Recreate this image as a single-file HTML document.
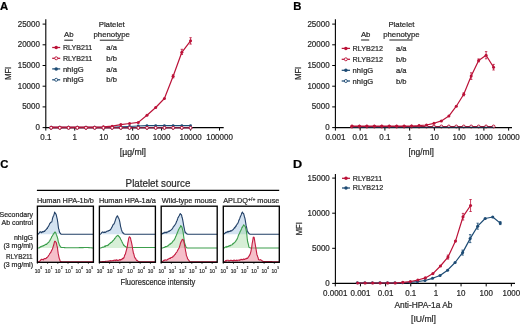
<!DOCTYPE html>
<html><head><meta charset="utf-8"><style>
html,body{margin:0;padding:0;background:#fff;overflow:hidden;}
svg{display:block;will-change:transform;font-family:"Liberation Sans",sans-serif;}
text{stroke-width:0.22px;}
</style></head><body>
<svg width="520" height="324" viewBox="0 0 520 324">
<rect width="520" height="324" fill="#fff"/>
<text x="0.00" y="9.50" font-size="11.3" text-anchor="start" font-weight="bold" fill="#000"  stroke="#000">A</text>
<text x="293.30" y="9.70" font-size="11.3" text-anchor="start" font-weight="bold" fill="#000"  stroke="#000">B</text>
<text x="0.20" y="168.40" font-size="11.3" text-anchor="start" font-weight="bold" fill="#000"  stroke="#000">C</text>
<text transform="translate(293.00 168.30) scale(1.12 1)" font-size="11.3" text-anchor="start" font-weight="bold" fill="#000"  stroke="#000">D</text>
<line x1="45.80" y1="19.30" x2="45.80" y2="128.10" stroke="#000" stroke-width="1.1" />
<line x1="42.60" y1="127.60" x2="45.80" y2="127.60" stroke="#000" stroke-width="1.0" />
<text transform="translate(39.90 130.06) scale(0.94 1)" font-size="8.5" text-anchor="end" font-weight="normal" fill="#2a2a2a"  stroke="#2a2a2a">0</text>
<line x1="42.60" y1="106.90" x2="45.80" y2="106.90" stroke="#000" stroke-width="1.0" />
<text transform="translate(39.90 109.36) scale(0.94 1)" font-size="8.5" text-anchor="end" font-weight="normal" fill="#2a2a2a"  stroke="#2a2a2a">5000</text>
<line x1="42.60" y1="86.20" x2="45.80" y2="86.20" stroke="#000" stroke-width="1.0" />
<text transform="translate(39.90 88.66) scale(0.94 1)" font-size="8.5" text-anchor="end" font-weight="normal" fill="#2a2a2a"  stroke="#2a2a2a">10000</text>
<line x1="42.60" y1="65.50" x2="45.80" y2="65.50" stroke="#000" stroke-width="1.0" />
<text transform="translate(39.90 67.97) scale(0.94 1)" font-size="8.5" text-anchor="end" font-weight="normal" fill="#2a2a2a"  stroke="#2a2a2a">15000</text>
<line x1="42.60" y1="44.80" x2="45.80" y2="44.80" stroke="#000" stroke-width="1.0" />
<text transform="translate(39.90 47.27) scale(0.94 1)" font-size="8.5" text-anchor="end" font-weight="normal" fill="#2a2a2a"  stroke="#2a2a2a">20000</text>
<line x1="42.60" y1="24.10" x2="45.80" y2="24.10" stroke="#000" stroke-width="1.0" />
<text transform="translate(39.90 26.56) scale(0.94 1)" font-size="8.5" text-anchor="end" font-weight="normal" fill="#2a2a2a"  stroke="#2a2a2a">25000</text>
<line x1="45.30" y1="127.60" x2="223.70" y2="127.60" stroke="#000" stroke-width="1.1" />
<line x1="45.80" y1="127.60" x2="45.80" y2="130.60" stroke="#000" stroke-width="1.0" />
<text transform="translate(45.80 139.80) scale(0.94 1)" font-size="8.5" text-anchor="middle" font-weight="normal" fill="#2a2a2a"  stroke="#2a2a2a">0.1</text>
<line x1="74.75" y1="127.60" x2="74.75" y2="130.60" stroke="#000" stroke-width="1.0" />
<text transform="translate(74.75 139.80) scale(0.94 1)" font-size="8.5" text-anchor="middle" font-weight="normal" fill="#2a2a2a"  stroke="#2a2a2a">1</text>
<line x1="103.70" y1="127.60" x2="103.70" y2="130.60" stroke="#000" stroke-width="1.0" />
<text transform="translate(103.70 139.80) scale(0.94 1)" font-size="8.5" text-anchor="middle" font-weight="normal" fill="#2a2a2a"  stroke="#2a2a2a">10</text>
<line x1="132.65" y1="127.60" x2="132.65" y2="130.60" stroke="#000" stroke-width="1.0" />
<text transform="translate(132.65 139.80) scale(0.94 1)" font-size="8.5" text-anchor="middle" font-weight="normal" fill="#2a2a2a"  stroke="#2a2a2a">100</text>
<line x1="161.60" y1="127.60" x2="161.60" y2="130.60" stroke="#000" stroke-width="1.0" />
<text transform="translate(161.60 139.80) scale(0.94 1)" font-size="8.5" text-anchor="middle" font-weight="normal" fill="#2a2a2a"  stroke="#2a2a2a">1000</text>
<line x1="190.55" y1="127.60" x2="190.55" y2="130.60" stroke="#000" stroke-width="1.0" />
<text transform="translate(190.55 139.80) scale(0.94 1)" font-size="8.5" text-anchor="middle" font-weight="normal" fill="#2a2a2a"  stroke="#2a2a2a">10000</text>
<line x1="219.50" y1="127.60" x2="219.50" y2="130.60" stroke="#000" stroke-width="1.0" />
<text transform="translate(219.50 139.80) scale(0.94 1)" font-size="8.5" text-anchor="middle" font-weight="normal" fill="#2a2a2a"  stroke="#2a2a2a">100000</text>
<text transform="translate(10.8 73.4) rotate(-90)" x="-6.45" y="0" font-size="9.2" fill="#2a2a2a" textLength="13.0" lengthAdjust="spacingAndGlyphs" stroke="#2a2a2a">MFI</text>
<text x="132.90" y="155.10" font-size="8.7" text-anchor="middle" font-weight="normal" fill="#2a2a2a"  stroke="#2a2a2a">[µg/ml]</text>
<polyline points="190.55,127.85 181.84,127.85 173.12,127.85 164.41,127.85 155.69,127.85 146.98,127.85 138.26,127.85 129.55,127.85 120.83,127.85 112.12,127.85 103.40,127.85 94.69,127.85 85.97,127.85 77.26,127.85 68.54,127.85 59.83,127.85 51.11,127.85" fill="none" stroke="#1d4b74" stroke-width="0.9" stroke-linejoin="round"/>
<circle cx="190.55" cy="127.85" r="1.4" fill="#fff" stroke="#1d4b74" stroke-width="0.9"/>
<circle cx="181.84" cy="127.85" r="1.4" fill="#fff" stroke="#1d4b74" stroke-width="0.9"/>
<circle cx="173.12" cy="127.85" r="1.4" fill="#fff" stroke="#1d4b74" stroke-width="0.9"/>
<circle cx="164.41" cy="127.85" r="1.4" fill="#fff" stroke="#1d4b74" stroke-width="0.9"/>
<circle cx="155.69" cy="127.85" r="1.4" fill="#fff" stroke="#1d4b74" stroke-width="0.9"/>
<circle cx="146.98" cy="127.85" r="1.4" fill="#fff" stroke="#1d4b74" stroke-width="0.9"/>
<circle cx="138.26" cy="127.85" r="1.4" fill="#fff" stroke="#1d4b74" stroke-width="0.9"/>
<circle cx="129.55" cy="127.85" r="1.4" fill="#fff" stroke="#1d4b74" stroke-width="0.9"/>
<circle cx="120.83" cy="127.85" r="1.4" fill="#fff" stroke="#1d4b74" stroke-width="0.9"/>
<circle cx="112.12" cy="127.85" r="1.4" fill="#fff" stroke="#1d4b74" stroke-width="0.9"/>
<circle cx="103.40" cy="127.85" r="1.4" fill="#fff" stroke="#1d4b74" stroke-width="0.9"/>
<circle cx="94.69" cy="127.85" r="1.4" fill="#fff" stroke="#1d4b74" stroke-width="0.9"/>
<circle cx="85.97" cy="127.85" r="1.4" fill="#fff" stroke="#1d4b74" stroke-width="0.9"/>
<circle cx="77.26" cy="127.85" r="1.4" fill="#fff" stroke="#1d4b74" stroke-width="0.9"/>
<circle cx="68.54" cy="127.85" r="1.4" fill="#fff" stroke="#1d4b74" stroke-width="0.9"/>
<circle cx="59.83" cy="127.85" r="1.4" fill="#fff" stroke="#1d4b74" stroke-width="0.9"/>
<circle cx="51.11" cy="127.85" r="1.4" fill="#fff" stroke="#1d4b74" stroke-width="0.9"/>
<polyline points="190.55,125.60 181.84,125.60 173.12,125.60 164.41,125.60 155.69,125.60 146.98,125.60 138.26,126.00 129.55,126.50 120.83,126.90 112.12,127.20 103.40,127.20 94.69,127.20 85.97,127.20 77.26,127.20 68.54,127.20 59.83,127.20 51.11,127.20" fill="none" stroke="#1d4b74" stroke-width="1.1" stroke-linejoin="round"/>
<circle cx="190.55" cy="125.60" r="1.4" fill="#1d4b74"/>
<circle cx="181.84" cy="125.60" r="1.4" fill="#1d4b74"/>
<circle cx="173.12" cy="125.60" r="1.4" fill="#1d4b74"/>
<circle cx="164.41" cy="125.60" r="1.4" fill="#1d4b74"/>
<circle cx="155.69" cy="125.60" r="1.4" fill="#1d4b74"/>
<circle cx="146.98" cy="125.60" r="1.4" fill="#1d4b74"/>
<circle cx="138.26" cy="126.00" r="1.4" fill="#1d4b74"/>
<circle cx="129.55" cy="126.50" r="1.4" fill="#1d4b74"/>
<circle cx="120.83" cy="126.90" r="1.4" fill="#1d4b74"/>
<circle cx="112.12" cy="127.20" r="1.4" fill="#1d4b74"/>
<circle cx="103.40" cy="127.20" r="1.4" fill="#1d4b74"/>
<circle cx="94.69" cy="127.20" r="1.4" fill="#1d4b74"/>
<circle cx="85.97" cy="127.20" r="1.4" fill="#1d4b74"/>
<circle cx="77.26" cy="127.20" r="1.4" fill="#1d4b74"/>
<circle cx="68.54" cy="127.20" r="1.4" fill="#1d4b74"/>
<circle cx="59.83" cy="127.20" r="1.4" fill="#1d4b74"/>
<circle cx="51.11" cy="127.20" r="1.4" fill="#1d4b74"/>
<polyline points="190.55,40.80 181.84,52.30 173.12,76.30 164.41,98.50 155.69,107.50 146.98,115.20 138.26,122.40 129.55,123.50 120.83,124.60 112.12,126.20 103.40,126.80 94.69,127.20 85.97,127.20 77.26,127.20 68.54,127.20 59.83,127.20 51.11,127.20" fill="none" stroke="#bb1238" stroke-width="1.2" stroke-linejoin="round"/>
<circle cx="190.55" cy="40.80" r="1.5" fill="#bb1238"/>
<circle cx="181.84" cy="52.30" r="1.5" fill="#bb1238"/>
<circle cx="173.12" cy="76.30" r="1.5" fill="#bb1238"/>
<circle cx="164.41" cy="98.50" r="1.5" fill="#bb1238"/>
<circle cx="155.69" cy="107.50" r="1.5" fill="#bb1238"/>
<circle cx="146.98" cy="115.20" r="1.5" fill="#bb1238"/>
<circle cx="138.26" cy="122.40" r="1.5" fill="#bb1238"/>
<circle cx="129.55" cy="123.50" r="1.5" fill="#bb1238"/>
<circle cx="120.83" cy="124.60" r="1.5" fill="#bb1238"/>
<circle cx="112.12" cy="126.20" r="1.5" fill="#bb1238"/>
<circle cx="103.40" cy="126.80" r="1.5" fill="#bb1238"/>
<circle cx="94.69" cy="127.20" r="1.5" fill="#bb1238"/>
<circle cx="85.97" cy="127.20" r="1.5" fill="#bb1238"/>
<circle cx="77.26" cy="127.20" r="1.5" fill="#bb1238"/>
<circle cx="68.54" cy="127.20" r="1.5" fill="#bb1238"/>
<circle cx="59.83" cy="127.20" r="1.5" fill="#bb1238"/>
<circle cx="51.11" cy="127.20" r="1.5" fill="#bb1238"/>
<polyline points="190.55,127.85 181.84,127.85 173.12,127.85 164.41,127.85 155.69,127.85 146.98,127.85 138.26,127.85 129.55,127.85 120.83,127.85 112.12,127.85 103.40,127.85 94.69,127.85 85.97,127.85 77.26,127.85 68.54,127.85 59.83,127.85 51.11,127.85" fill="none" stroke="#bb1238" stroke-width="1.0" stroke-linejoin="round"/>
<circle cx="190.55" cy="127.85" r="1.45" fill="#fff" stroke="#bb1238" stroke-width="1.0"/>
<circle cx="181.84" cy="127.85" r="1.45" fill="#fff" stroke="#bb1238" stroke-width="1.0"/>
<circle cx="173.12" cy="127.85" r="1.45" fill="#fff" stroke="#bb1238" stroke-width="1.0"/>
<circle cx="164.41" cy="127.85" r="1.45" fill="#fff" stroke="#bb1238" stroke-width="1.0"/>
<circle cx="155.69" cy="127.85" r="1.45" fill="#fff" stroke="#bb1238" stroke-width="1.0"/>
<circle cx="146.98" cy="127.85" r="1.45" fill="#fff" stroke="#bb1238" stroke-width="1.0"/>
<circle cx="138.26" cy="127.85" r="1.45" fill="#fff" stroke="#bb1238" stroke-width="1.0"/>
<circle cx="129.55" cy="127.85" r="1.45" fill="#fff" stroke="#bb1238" stroke-width="1.0"/>
<circle cx="120.83" cy="127.85" r="1.45" fill="#fff" stroke="#bb1238" stroke-width="1.0"/>
<circle cx="112.12" cy="127.85" r="1.45" fill="#fff" stroke="#bb1238" stroke-width="1.0"/>
<circle cx="103.40" cy="127.85" r="1.45" fill="#fff" stroke="#bb1238" stroke-width="1.0"/>
<circle cx="94.69" cy="127.85" r="1.45" fill="#fff" stroke="#bb1238" stroke-width="1.0"/>
<circle cx="85.97" cy="127.85" r="1.45" fill="#fff" stroke="#bb1238" stroke-width="1.0"/>
<circle cx="77.26" cy="127.85" r="1.45" fill="#fff" stroke="#bb1238" stroke-width="1.0"/>
<circle cx="68.54" cy="127.85" r="1.45" fill="#fff" stroke="#bb1238" stroke-width="1.0"/>
<circle cx="59.83" cy="127.85" r="1.45" fill="#fff" stroke="#bb1238" stroke-width="1.0"/>
<circle cx="51.11" cy="127.85" r="1.45" fill="#fff" stroke="#bb1238" stroke-width="1.0"/>
<line x1="190.55" y1="37.70" x2="190.55" y2="44.10" stroke="#bb1238" stroke-width="0.8" />
<line x1="189.35" y1="37.70" x2="191.75" y2="37.70" stroke="#bb1238" stroke-width="0.8" />
<line x1="189.35" y1="44.10" x2="191.75" y2="44.10" stroke="#bb1238" stroke-width="0.8" />
<line x1="181.84" y1="49.30" x2="181.84" y2="54.50" stroke="#bb1238" stroke-width="0.8" />
<line x1="180.64" y1="49.30" x2="183.04" y2="49.30" stroke="#bb1238" stroke-width="0.8" />
<line x1="180.64" y1="54.50" x2="183.04" y2="54.50" stroke="#bb1238" stroke-width="0.8" />
<line x1="173.12" y1="74.70" x2="173.12" y2="77.90" stroke="#bb1238" stroke-width="0.8" />
<line x1="171.92" y1="74.70" x2="174.32" y2="74.70" stroke="#bb1238" stroke-width="0.8" />
<line x1="171.92" y1="77.90" x2="174.32" y2="77.90" stroke="#bb1238" stroke-width="0.8" />
<text x="68.80" y="36.70" font-size="7.8" text-anchor="middle" font-weight="normal" fill="#2a2a2a"  stroke="#2a2a2a">Ab</text>
<line x1="64.30" y1="40.20" x2="72.90" y2="40.20" stroke="#111" stroke-width="0.95" />
<text x="111.70" y="27.00" font-size="7.8" text-anchor="middle" font-weight="normal" fill="#2a2a2a"  stroke="#2a2a2a">Platelet</text>
<text x="111.70" y="36.50" font-size="7.8" text-anchor="middle" font-weight="normal" fill="#2a2a2a"  stroke="#2a2a2a">phenotype</text>
<line x1="99.80" y1="40.20" x2="123.50" y2="40.20" stroke="#111" stroke-width="0.95" />
<line x1="52.20" y1="47.50" x2="60.20" y2="47.50" stroke="#bb1238" stroke-width="1.25" />
<circle cx="56.20" cy="47.50" r="1.75" fill="#bb1238"/>
<text x="62.90" y="50.15" font-size="7.6" fill="#2a2a2a" textLength="29.4" lengthAdjust="spacingAndGlyphs" stroke="#2a2a2a">RLYB211</text>
<text x="111.60" y="50.15" font-size="7.6" text-anchor="middle" font-weight="normal" fill="#2a2a2a"  stroke="#2a2a2a">a/a</text>
<line x1="52.20" y1="58.30" x2="60.20" y2="58.30" stroke="#bb1238" stroke-width="1.25" />
<circle cx="56.20" cy="58.30" r="1.5" fill="#fff" stroke="#bb1238" stroke-width="0.9"/>
<text x="62.90" y="60.95" font-size="7.6" fill="#2a2a2a" textLength="29.4" lengthAdjust="spacingAndGlyphs" stroke="#2a2a2a">RLYB211</text>
<text x="111.60" y="60.95" font-size="7.6" text-anchor="middle" font-weight="normal" fill="#2a2a2a"  stroke="#2a2a2a">b/b</text>
<line x1="52.20" y1="68.90" x2="60.20" y2="68.90" stroke="#1d4b74" stroke-width="1.25" />
<circle cx="56.20" cy="68.90" r="1.75" fill="#1d4b74"/>
<text x="62.90" y="71.55" font-size="7.6" fill="#2a2a2a" stroke="#2a2a2a">nhIgG</text>
<text x="111.60" y="71.55" font-size="7.6" text-anchor="middle" font-weight="normal" fill="#2a2a2a"  stroke="#2a2a2a">a/a</text>
<line x1="52.20" y1="79.80" x2="60.20" y2="79.80" stroke="#1d4b74" stroke-width="1.25" />
<circle cx="56.20" cy="79.80" r="1.5" fill="#fff" stroke="#1d4b74" stroke-width="0.9"/>
<text x="62.90" y="82.45" font-size="7.6" fill="#2a2a2a" stroke="#2a2a2a">nhIgG</text>
<text x="111.60" y="82.45" font-size="7.6" text-anchor="middle" font-weight="normal" fill="#2a2a2a"  stroke="#2a2a2a">b/b</text>
<line x1="335.40" y1="19.30" x2="335.40" y2="128.10" stroke="#000" stroke-width="1.1" />
<line x1="332.20" y1="127.60" x2="335.40" y2="127.60" stroke="#000" stroke-width="1.0" />
<text transform="translate(329.60 130.06) scale(0.94 1)" font-size="8.5" text-anchor="end" font-weight="normal" fill="#2a2a2a"  stroke="#2a2a2a">0</text>
<line x1="332.20" y1="106.90" x2="335.40" y2="106.90" stroke="#000" stroke-width="1.0" />
<text transform="translate(329.60 109.36) scale(0.94 1)" font-size="8.5" text-anchor="end" font-weight="normal" fill="#2a2a2a"  stroke="#2a2a2a">5000</text>
<line x1="332.20" y1="86.20" x2="335.40" y2="86.20" stroke="#000" stroke-width="1.0" />
<text transform="translate(329.60 88.66) scale(0.94 1)" font-size="8.5" text-anchor="end" font-weight="normal" fill="#2a2a2a"  stroke="#2a2a2a">10000</text>
<line x1="332.20" y1="65.50" x2="335.40" y2="65.50" stroke="#000" stroke-width="1.0" />
<text transform="translate(329.60 67.97) scale(0.94 1)" font-size="8.5" text-anchor="end" font-weight="normal" fill="#2a2a2a"  stroke="#2a2a2a">15000</text>
<line x1="332.20" y1="44.80" x2="335.40" y2="44.80" stroke="#000" stroke-width="1.0" />
<text transform="translate(329.60 47.27) scale(0.94 1)" font-size="8.5" text-anchor="end" font-weight="normal" fill="#2a2a2a"  stroke="#2a2a2a">20000</text>
<line x1="332.20" y1="24.10" x2="335.40" y2="24.10" stroke="#000" stroke-width="1.0" />
<text transform="translate(329.60 26.56) scale(0.94 1)" font-size="8.5" text-anchor="end" font-weight="normal" fill="#2a2a2a"  stroke="#2a2a2a">25000</text>
<line x1="334.90" y1="127.60" x2="512.00" y2="127.60" stroke="#000" stroke-width="1.1" />
<line x1="335.40" y1="127.60" x2="335.40" y2="130.60" stroke="#000" stroke-width="1.0" />
<text transform="translate(335.40 139.80) scale(0.94 1)" font-size="8.5" text-anchor="middle" font-weight="normal" fill="#2a2a2a"  stroke="#2a2a2a">0.001</text>
<line x1="360.15" y1="127.60" x2="360.15" y2="130.60" stroke="#000" stroke-width="1.0" />
<text transform="translate(360.15 139.80) scale(0.94 1)" font-size="8.5" text-anchor="middle" font-weight="normal" fill="#2a2a2a"  stroke="#2a2a2a">0.01</text>
<line x1="384.90" y1="127.60" x2="384.90" y2="130.60" stroke="#000" stroke-width="1.0" />
<text transform="translate(384.90 139.80) scale(0.94 1)" font-size="8.5" text-anchor="middle" font-weight="normal" fill="#2a2a2a"  stroke="#2a2a2a">0.1</text>
<line x1="409.65" y1="127.60" x2="409.65" y2="130.60" stroke="#000" stroke-width="1.0" />
<text transform="translate(409.65 139.80) scale(0.94 1)" font-size="8.5" text-anchor="middle" font-weight="normal" fill="#2a2a2a"  stroke="#2a2a2a">1</text>
<line x1="434.40" y1="127.60" x2="434.40" y2="130.60" stroke="#000" stroke-width="1.0" />
<text transform="translate(434.40 139.80) scale(0.94 1)" font-size="8.5" text-anchor="middle" font-weight="normal" fill="#2a2a2a"  stroke="#2a2a2a">10</text>
<line x1="459.15" y1="127.60" x2="459.15" y2="130.60" stroke="#000" stroke-width="1.0" />
<text transform="translate(459.15 139.80) scale(0.94 1)" font-size="8.5" text-anchor="middle" font-weight="normal" fill="#2a2a2a"  stroke="#2a2a2a">100</text>
<line x1="483.90" y1="127.60" x2="483.90" y2="130.60" stroke="#000" stroke-width="1.0" />
<text transform="translate(483.90 139.80) scale(0.94 1)" font-size="8.5" text-anchor="middle" font-weight="normal" fill="#2a2a2a"  stroke="#2a2a2a">1000</text>
<line x1="508.65" y1="127.60" x2="508.65" y2="130.60" stroke="#000" stroke-width="1.0" />
<text transform="translate(508.65 139.80) scale(0.94 1)" font-size="8.5" text-anchor="middle" font-weight="normal" fill="#2a2a2a"  stroke="#2a2a2a">10000</text>
<text transform="translate(300.9 73.4) rotate(-90)" x="-6.45" y="0" font-size="9.2" fill="#2a2a2a" textLength="13.0" lengthAdjust="spacingAndGlyphs" stroke="#2a2a2a">MFI</text>
<text x="421.20" y="155.00" font-size="8.5" text-anchor="middle" font-weight="normal" fill="#2a2a2a"  stroke="#2a2a2a">[ng/ml]</text>
<polyline points="493.55,126.50 486.10,126.50 478.65,126.50 471.20,126.50 463.75,126.50 456.30,126.50 448.85,126.50 441.40,126.50 433.95,126.50 426.49,126.50 419.04,126.50 411.59,126.50 404.14,126.50 396.69,126.50 389.24,126.50 381.79,126.50 374.34,126.50 366.89,126.50 359.44,126.50 351.99,126.50" fill="none" stroke="#bb1238" stroke-width="1.0" stroke-linejoin="round"/>
<circle cx="493.55" cy="126.50" r="1.45" fill="#fff" stroke="#bb1238" stroke-width="1.0"/>
<circle cx="486.10" cy="126.50" r="1.45" fill="#fff" stroke="#bb1238" stroke-width="1.0"/>
<circle cx="478.65" cy="126.50" r="1.45" fill="#fff" stroke="#bb1238" stroke-width="1.0"/>
<circle cx="471.20" cy="126.50" r="1.45" fill="#fff" stroke="#bb1238" stroke-width="1.0"/>
<circle cx="463.75" cy="126.50" r="1.45" fill="#fff" stroke="#bb1238" stroke-width="1.0"/>
<circle cx="456.30" cy="126.50" r="1.45" fill="#fff" stroke="#bb1238" stroke-width="1.0"/>
<circle cx="448.85" cy="126.50" r="1.45" fill="#fff" stroke="#bb1238" stroke-width="1.0"/>
<circle cx="441.40" cy="126.50" r="1.45" fill="#fff" stroke="#bb1238" stroke-width="1.0"/>
<circle cx="433.95" cy="126.50" r="1.45" fill="#fff" stroke="#bb1238" stroke-width="1.0"/>
<circle cx="426.49" cy="126.50" r="1.45" fill="#fff" stroke="#bb1238" stroke-width="1.0"/>
<circle cx="419.04" cy="126.50" r="1.45" fill="#fff" stroke="#bb1238" stroke-width="1.0"/>
<circle cx="411.59" cy="126.50" r="1.45" fill="#fff" stroke="#bb1238" stroke-width="1.0"/>
<circle cx="404.14" cy="126.50" r="1.45" fill="#fff" stroke="#bb1238" stroke-width="1.0"/>
<circle cx="396.69" cy="126.50" r="1.45" fill="#fff" stroke="#bb1238" stroke-width="1.0"/>
<circle cx="389.24" cy="126.50" r="1.45" fill="#fff" stroke="#bb1238" stroke-width="1.0"/>
<circle cx="381.79" cy="126.50" r="1.45" fill="#fff" stroke="#bb1238" stroke-width="1.0"/>
<circle cx="374.34" cy="126.50" r="1.45" fill="#fff" stroke="#bb1238" stroke-width="1.0"/>
<circle cx="366.89" cy="126.50" r="1.45" fill="#fff" stroke="#bb1238" stroke-width="1.0"/>
<circle cx="359.44" cy="126.50" r="1.45" fill="#fff" stroke="#bb1238" stroke-width="1.0"/>
<circle cx="351.99" cy="126.50" r="1.45" fill="#fff" stroke="#bb1238" stroke-width="1.0"/>
<polyline points="493.55,127.40 486.10,127.40 478.65,127.40 471.20,127.40 463.75,127.40 456.30,127.40 448.85,127.40 441.40,127.40 433.95,127.40 426.49,127.40 419.04,127.40 411.59,127.40 404.14,127.40 396.69,127.40 389.24,127.40 381.79,127.40 374.34,127.40 366.89,127.40 359.44,127.40 351.99,127.40" fill="none" stroke="#1a2a40" stroke-width="1.1" stroke-linejoin="round"/>
<polyline points="493.55,67.20 486.10,55.20 478.65,60.40 471.20,76.10 463.75,94.30 456.30,106.20 448.85,116.10 441.40,120.90 433.95,123.30 426.49,125.00 419.04,125.60 411.59,126.00 404.14,126.20 396.69,126.20 389.24,126.20 381.79,126.20 374.34,126.20 366.89,126.20 359.44,126.20 351.99,126.20" fill="none" stroke="#bb1238" stroke-width="1.2" stroke-linejoin="round"/>
<circle cx="493.55" cy="67.20" r="1.5" fill="#bb1238"/>
<circle cx="486.10" cy="55.20" r="1.5" fill="#bb1238"/>
<circle cx="478.65" cy="60.40" r="1.5" fill="#bb1238"/>
<circle cx="471.20" cy="76.10" r="1.5" fill="#bb1238"/>
<circle cx="463.75" cy="94.30" r="1.5" fill="#bb1238"/>
<circle cx="456.30" cy="106.20" r="1.5" fill="#bb1238"/>
<circle cx="448.85" cy="116.10" r="1.5" fill="#bb1238"/>
<circle cx="441.40" cy="120.90" r="1.5" fill="#bb1238"/>
<circle cx="433.95" cy="123.30" r="1.5" fill="#bb1238"/>
<circle cx="426.49" cy="125.00" r="1.5" fill="#bb1238"/>
<circle cx="419.04" cy="125.60" r="1.5" fill="#bb1238"/>
<circle cx="411.59" cy="126.00" r="1.5" fill="#bb1238"/>
<circle cx="404.14" cy="126.20" r="1.5" fill="#bb1238"/>
<circle cx="396.69" cy="126.20" r="1.5" fill="#bb1238"/>
<circle cx="389.24" cy="126.20" r="1.5" fill="#bb1238"/>
<circle cx="381.79" cy="126.20" r="1.5" fill="#bb1238"/>
<circle cx="374.34" cy="126.20" r="1.5" fill="#bb1238"/>
<circle cx="366.89" cy="126.20" r="1.5" fill="#bb1238"/>
<circle cx="359.44" cy="126.20" r="1.5" fill="#bb1238"/>
<circle cx="351.99" cy="126.20" r="1.5" fill="#bb1238"/>
<line x1="493.55" y1="64.40" x2="493.55" y2="70.00" stroke="#bb1238" stroke-width="0.8" />
<line x1="492.35" y1="64.40" x2="494.75" y2="64.40" stroke="#bb1238" stroke-width="0.8" />
<line x1="492.35" y1="70.00" x2="494.75" y2="70.00" stroke="#bb1238" stroke-width="0.8" />
<line x1="486.10" y1="51.60" x2="486.10" y2="58.80" stroke="#bb1238" stroke-width="0.8" />
<line x1="484.90" y1="51.60" x2="487.30" y2="51.60" stroke="#bb1238" stroke-width="0.8" />
<line x1="484.90" y1="58.80" x2="487.30" y2="58.80" stroke="#bb1238" stroke-width="0.8" />
<line x1="478.65" y1="58.90" x2="478.65" y2="61.90" stroke="#bb1238" stroke-width="0.8" />
<line x1="477.45" y1="58.90" x2="479.85" y2="58.90" stroke="#bb1238" stroke-width="0.8" />
<line x1="477.45" y1="61.90" x2="479.85" y2="61.90" stroke="#bb1238" stroke-width="0.8" />
<line x1="471.20" y1="72.80" x2="471.20" y2="79.40" stroke="#bb1238" stroke-width="0.8" />
<line x1="470.00" y1="72.80" x2="472.40" y2="72.80" stroke="#bb1238" stroke-width="0.8" />
<line x1="470.00" y1="79.40" x2="472.40" y2="79.40" stroke="#bb1238" stroke-width="0.8" />
<line x1="463.75" y1="92.80" x2="463.75" y2="95.80" stroke="#bb1238" stroke-width="0.8" />
<line x1="462.55" y1="92.80" x2="464.95" y2="92.80" stroke="#bb1238" stroke-width="0.8" />
<line x1="462.55" y1="95.80" x2="464.95" y2="95.80" stroke="#bb1238" stroke-width="0.8" />
<text x="365.70" y="36.70" font-size="7.8" text-anchor="middle" font-weight="normal" fill="#2a2a2a"  stroke="#2a2a2a">Ab</text>
<line x1="361.10" y1="40.00" x2="369.20" y2="40.00" stroke="#111" stroke-width="0.95" />
<text x="401.40" y="27.00" font-size="7.8" text-anchor="middle" font-weight="normal" fill="#2a2a2a"  stroke="#2a2a2a">Platelet</text>
<text x="401.40" y="36.50" font-size="7.8" text-anchor="middle" font-weight="normal" fill="#2a2a2a"  stroke="#2a2a2a">phenotype</text>
<line x1="389.40" y1="40.00" x2="412.50" y2="40.00" stroke="#111" stroke-width="0.95" />
<line x1="341.70" y1="48.40" x2="350.00" y2="48.40" stroke="#bb1238" stroke-width="1.25" />
<circle cx="345.85" cy="48.40" r="1.75" fill="#bb1238"/>
<text x="352.60" y="51.05" font-size="7.6" fill="#2a2a2a" textLength="30.4" lengthAdjust="spacingAndGlyphs" stroke="#2a2a2a">RLYB212</text>
<text x="401.20" y="51.05" font-size="7.6" text-anchor="middle" font-weight="normal" fill="#2a2a2a"  stroke="#2a2a2a">a/a</text>
<line x1="341.70" y1="59.30" x2="350.00" y2="59.30" stroke="#bb1238" stroke-width="1.25" />
<circle cx="345.85" cy="59.30" r="1.5" fill="#fff" stroke="#bb1238" stroke-width="0.9"/>
<text x="352.60" y="61.95" font-size="7.6" fill="#2a2a2a" textLength="30.4" lengthAdjust="spacingAndGlyphs" stroke="#2a2a2a">RLYB212</text>
<text x="401.20" y="61.95" font-size="7.6" text-anchor="middle" font-weight="normal" fill="#2a2a2a"  stroke="#2a2a2a">b/b</text>
<line x1="341.70" y1="70.30" x2="350.00" y2="70.30" stroke="#1d4b74" stroke-width="1.25" />
<circle cx="345.85" cy="70.30" r="1.75" fill="#1d4b74"/>
<text x="352.60" y="72.95" font-size="7.6" fill="#2a2a2a" stroke="#2a2a2a">nhIgG</text>
<text x="401.20" y="72.95" font-size="7.6" text-anchor="middle" font-weight="normal" fill="#2a2a2a"  stroke="#2a2a2a">a/a</text>
<line x1="341.70" y1="81.00" x2="350.00" y2="81.00" stroke="#1d4b74" stroke-width="1.25" />
<circle cx="345.85" cy="81.00" r="1.5" fill="#fff" stroke="#1d4b74" stroke-width="0.9"/>
<text x="352.60" y="83.65" font-size="7.6" fill="#2a2a2a" stroke="#2a2a2a">nhIgG</text>
<text x="401.20" y="83.65" font-size="7.6" text-anchor="middle" font-weight="normal" fill="#2a2a2a"  stroke="#2a2a2a">b/b</text>
<line x1="335.40" y1="174.10" x2="335.40" y2="283.90" stroke="#000" stroke-width="1.1" />
<line x1="332.20" y1="283.40" x2="335.40" y2="283.40" stroke="#000" stroke-width="1.0" />
<text transform="translate(329.80 285.86) scale(0.94 1)" font-size="8.5" text-anchor="end" font-weight="normal" fill="#2a2a2a"  stroke="#2a2a2a">0</text>
<line x1="332.20" y1="248.30" x2="335.40" y2="248.30" stroke="#000" stroke-width="1.0" />
<text transform="translate(329.80 250.76) scale(0.94 1)" font-size="8.5" text-anchor="end" font-weight="normal" fill="#2a2a2a"  stroke="#2a2a2a">5000</text>
<line x1="332.20" y1="213.20" x2="335.40" y2="213.20" stroke="#000" stroke-width="1.0" />
<text transform="translate(329.80 215.66) scale(0.94 1)" font-size="8.5" text-anchor="end" font-weight="normal" fill="#2a2a2a"  stroke="#2a2a2a">10000</text>
<line x1="332.20" y1="178.10" x2="335.40" y2="178.10" stroke="#000" stroke-width="1.0" />
<text transform="translate(329.80 180.56) scale(0.94 1)" font-size="8.5" text-anchor="end" font-weight="normal" fill="#2a2a2a"  stroke="#2a2a2a">15000</text>
<line x1="334.80" y1="283.40" x2="515.00" y2="283.40" stroke="#000" stroke-width="1.1" />
<line x1="335.30" y1="283.40" x2="335.30" y2="286.40" stroke="#000" stroke-width="1.0" />
<text transform="translate(335.30 295.90) scale(0.94 1)" font-size="8.5" text-anchor="middle" font-weight="normal" fill="#2a2a2a"  stroke="#2a2a2a">0.0001</text>
<line x1="360.45" y1="283.40" x2="360.45" y2="286.40" stroke="#000" stroke-width="1.0" />
<text transform="translate(360.45 295.90) scale(0.94 1)" font-size="8.5" text-anchor="middle" font-weight="normal" fill="#2a2a2a"  stroke="#2a2a2a">0.001</text>
<line x1="385.60" y1="283.40" x2="385.60" y2="286.40" stroke="#000" stroke-width="1.0" />
<text transform="translate(385.60 295.90) scale(0.94 1)" font-size="8.5" text-anchor="middle" font-weight="normal" fill="#2a2a2a"  stroke="#2a2a2a">0.01</text>
<line x1="410.75" y1="283.40" x2="410.75" y2="286.40" stroke="#000" stroke-width="1.0" />
<text transform="translate(410.75 295.90) scale(0.94 1)" font-size="8.5" text-anchor="middle" font-weight="normal" fill="#2a2a2a"  stroke="#2a2a2a">0.1</text>
<line x1="435.90" y1="283.40" x2="435.90" y2="286.40" stroke="#000" stroke-width="1.0" />
<text transform="translate(435.90 295.90) scale(0.94 1)" font-size="8.5" text-anchor="middle" font-weight="normal" fill="#2a2a2a"  stroke="#2a2a2a">1</text>
<line x1="461.05" y1="283.40" x2="461.05" y2="286.40" stroke="#000" stroke-width="1.0" />
<text transform="translate(461.05 295.90) scale(0.94 1)" font-size="8.5" text-anchor="middle" font-weight="normal" fill="#2a2a2a"  stroke="#2a2a2a">10</text>
<line x1="486.20" y1="283.40" x2="486.20" y2="286.40" stroke="#000" stroke-width="1.0" />
<text transform="translate(486.20 295.90) scale(0.94 1)" font-size="8.5" text-anchor="middle" font-weight="normal" fill="#2a2a2a"  stroke="#2a2a2a">100</text>
<line x1="511.35" y1="283.40" x2="511.35" y2="286.40" stroke="#000" stroke-width="1.0" />
<text transform="translate(511.35 295.90) scale(0.94 1)" font-size="8.5" text-anchor="middle" font-weight="normal" fill="#2a2a2a"  stroke="#2a2a2a">1000</text>
<text transform="translate(302.1 228.8) rotate(-90)" x="-6.45" y="0" font-size="9.2" fill="#2a2a2a" textLength="13.0" lengthAdjust="spacingAndGlyphs" stroke="#2a2a2a">MFI</text>
<text x="423.50" y="308.30" font-size="8.4" text-anchor="middle" font-weight="normal" fill="#2a2a2a"  stroke="#2a2a2a">Anti-HPA-1a Ab</text>
<text x="423.50" y="321.50" font-size="8.6" text-anchor="middle" font-weight="normal" fill="#2a2a2a"  stroke="#2a2a2a">[IU/ml]</text>
<polyline points="500.25,223.10 492.73,217.00 485.20,218.50 477.67,226.20 470.15,238.60 462.62,252.60 455.10,262.50 447.57,270.20 440.05,275.50 432.52,278.30 424.99,280.50 417.47,281.60 409.94,282.30 402.42,282.80 394.89,282.80 387.37,282.80 379.84,282.80 372.31,282.80 364.79,282.80 357.26,282.80" fill="none" stroke="#1d4b74" stroke-width="1.2" stroke-linejoin="round"/>
<circle cx="500.25" cy="223.10" r="1.55" fill="#1d4b74"/>
<circle cx="492.73" cy="217.00" r="1.55" fill="#1d4b74"/>
<circle cx="485.20" cy="218.50" r="1.55" fill="#1d4b74"/>
<circle cx="477.67" cy="226.20" r="1.55" fill="#1d4b74"/>
<circle cx="470.15" cy="238.60" r="1.55" fill="#1d4b74"/>
<circle cx="462.62" cy="252.60" r="1.55" fill="#1d4b74"/>
<circle cx="455.10" cy="262.50" r="1.55" fill="#1d4b74"/>
<circle cx="447.57" cy="270.20" r="1.55" fill="#1d4b74"/>
<circle cx="440.05" cy="275.50" r="1.55" fill="#1d4b74"/>
<circle cx="432.52" cy="278.30" r="1.55" fill="#1d4b74"/>
<circle cx="424.99" cy="280.50" r="1.55" fill="#1d4b74"/>
<circle cx="417.47" cy="281.60" r="1.55" fill="#1d4b74"/>
<circle cx="409.94" cy="282.30" r="1.55" fill="#1d4b74"/>
<circle cx="402.42" cy="282.80" r="1.55" fill="#1d4b74"/>
<circle cx="394.89" cy="282.80" r="1.55" fill="#1d4b74"/>
<circle cx="387.37" cy="282.80" r="1.55" fill="#1d4b74"/>
<circle cx="379.84" cy="282.80" r="1.55" fill="#1d4b74"/>
<circle cx="372.31" cy="282.80" r="1.55" fill="#1d4b74"/>
<circle cx="364.79" cy="282.80" r="1.55" fill="#1d4b74"/>
<circle cx="357.26" cy="282.80" r="1.55" fill="#1d4b74"/>
<polyline points="470.55,205.50 463.02,216.70 455.50,241.10 447.97,257.10 440.45,266.00 432.92,273.60 425.39,277.90 417.87,280.00 410.34,281.60 402.82,282.40 395.29,283.00 387.77,283.00 380.24,283.00 372.71,283.00 365.19,283.00 357.66,283.00" fill="none" stroke="#bb1238" stroke-width="1.2" stroke-linejoin="round"/>
<circle cx="470.55" cy="205.50" r="1.55" fill="#bb1238"/>
<circle cx="463.02" cy="216.70" r="1.55" fill="#bb1238"/>
<circle cx="455.50" cy="241.10" r="1.55" fill="#bb1238"/>
<circle cx="447.97" cy="257.10" r="1.55" fill="#bb1238"/>
<circle cx="440.45" cy="266.00" r="1.55" fill="#bb1238"/>
<circle cx="432.92" cy="273.60" r="1.55" fill="#bb1238"/>
<circle cx="425.39" cy="277.90" r="1.55" fill="#bb1238"/>
<circle cx="417.87" cy="280.00" r="1.55" fill="#bb1238"/>
<circle cx="410.34" cy="281.60" r="1.55" fill="#bb1238"/>
<circle cx="402.82" cy="282.40" r="1.55" fill="#bb1238"/>
<circle cx="395.29" cy="283.00" r="1.55" fill="#bb1238"/>
<circle cx="387.77" cy="283.00" r="1.55" fill="#bb1238"/>
<circle cx="380.24" cy="283.00" r="1.55" fill="#bb1238"/>
<circle cx="372.71" cy="283.00" r="1.55" fill="#bb1238"/>
<circle cx="365.19" cy="283.00" r="1.55" fill="#bb1238"/>
<circle cx="357.66" cy="283.00" r="1.55" fill="#bb1238"/>
<line x1="470.55" y1="199.50" x2="470.55" y2="211.50" stroke="#bb1238" stroke-width="0.8" />
<line x1="469.35" y1="199.50" x2="471.75" y2="199.50" stroke="#bb1238" stroke-width="0.8" />
<line x1="469.35" y1="211.50" x2="471.75" y2="211.50" stroke="#bb1238" stroke-width="0.8" />
<line x1="463.02" y1="213.40" x2="463.02" y2="220.00" stroke="#bb1238" stroke-width="0.8" />
<line x1="461.82" y1="213.40" x2="464.22" y2="213.40" stroke="#bb1238" stroke-width="0.8" />
<line x1="461.82" y1="220.00" x2="464.22" y2="220.00" stroke="#bb1238" stroke-width="0.8" />
<line x1="447.97" y1="255.10" x2="447.97" y2="259.10" stroke="#bb1238" stroke-width="0.8" />
<line x1="446.77" y1="255.10" x2="449.17" y2="255.10" stroke="#bb1238" stroke-width="0.8" />
<line x1="446.77" y1="259.10" x2="449.17" y2="259.10" stroke="#bb1238" stroke-width="0.8" />
<line x1="477.67" y1="223.20" x2="477.67" y2="229.20" stroke="#1d4b74" stroke-width="0.8" />
<line x1="476.47" y1="223.20" x2="478.87" y2="223.20" stroke="#1d4b74" stroke-width="0.8" />
<line x1="476.47" y1="229.20" x2="478.87" y2="229.20" stroke="#1d4b74" stroke-width="0.8" />
<line x1="470.15" y1="234.60" x2="470.15" y2="242.60" stroke="#1d4b74" stroke-width="0.8" />
<line x1="468.95" y1="234.60" x2="471.35" y2="234.60" stroke="#1d4b74" stroke-width="0.8" />
<line x1="468.95" y1="242.60" x2="471.35" y2="242.60" stroke="#1d4b74" stroke-width="0.8" />
<line x1="462.62" y1="250.10" x2="462.62" y2="255.10" stroke="#1d4b74" stroke-width="0.8" />
<line x1="461.42" y1="250.10" x2="463.82" y2="250.10" stroke="#1d4b74" stroke-width="0.8" />
<line x1="461.42" y1="255.10" x2="463.82" y2="255.10" stroke="#1d4b74" stroke-width="0.8" />
<line x1="500.25" y1="221.60" x2="500.25" y2="224.60" stroke="#1d4b74" stroke-width="0.8" />
<line x1="499.05" y1="221.60" x2="501.45" y2="221.60" stroke="#1d4b74" stroke-width="0.8" />
<line x1="499.05" y1="224.60" x2="501.45" y2="224.60" stroke="#1d4b74" stroke-width="0.8" />
<line x1="342.00" y1="178.30" x2="350.00" y2="178.30" stroke="#bb1238" stroke-width="1.25" />
<circle cx="346.00" cy="178.30" r="1.75" fill="#bb1238"/>
<line x1="342.00" y1="188.00" x2="350.00" y2="188.00" stroke="#1d4b74" stroke-width="1.25" />
<circle cx="346.00" cy="188.00" r="1.75" fill="#1d4b74"/>
<text x="352.80" y="180.80" font-size="7.6" fill="#2a2a2a" textLength="29.4" lengthAdjust="spacingAndGlyphs" stroke="#2a2a2a">RLYB211</text>
<text x="352.80" y="190.40" font-size="7.6" fill="#2a2a2a" textLength="30.4" lengthAdjust="spacingAndGlyphs" stroke="#2a2a2a">RLYB212</text>
<text x="125.6" y="187.2" font-size="10.7" fill="#2a2a2a" textLength="64.8" lengthAdjust="spacingAndGlyphs" stroke="#2a2a2a">Platelet source</text>
<line x1="36.90" y1="190.30" x2="279.20" y2="190.30" stroke="#000" stroke-width="1.2" />
<text x="65.40" y="203.10" font-size="7.35" text-anchor="middle" font-weight="normal" fill="#2a2a2a"  stroke="#2a2a2a">Human HPA-1b/b</text>
<text x="127.40" y="203.10" font-size="7.35" text-anchor="middle" font-weight="normal" fill="#2a2a2a"  stroke="#2a2a2a">Human HPA-1a/a</text>
<text x="189.20" y="203.10" font-size="7.35" text-anchor="middle" font-weight="normal" fill="#2a2a2a"  stroke="#2a2a2a">Wild-type mouse</text>
<text x="251.30" y="203.10" font-size="7.35" text-anchor="middle" font-weight="normal" fill="#2a2a2a"  stroke="#2a2a2a">APLDQ<tspan font-size="5" dy="-2.6">+/+</tspan><tspan dy="2.6"> mouse</tspan></text>
<text x="33.00" y="217.40" font-size="7.0" text-anchor="end" font-weight="normal" fill="#2a2a2a"  stroke="#2a2a2a">Secondary</text>
<text x="33.00" y="225.00" font-size="7.0" text-anchor="end" font-weight="normal" fill="#2a2a2a"  stroke="#2a2a2a">Ab control</text>
<text x="33.00" y="239.90" font-size="7.0" text-anchor="end" font-weight="normal" fill="#2a2a2a"  stroke="#2a2a2a">nhIgG</text>
<text x="33.00" y="247.50" font-size="7.0" text-anchor="end" font-weight="normal" fill="#2a2a2a"  stroke="#2a2a2a">(3 mg/ml)</text>
<text x="32.7" y="259.3" font-size="7.0" text-anchor="end" fill="#2a2a2a" textLength="26.6" lengthAdjust="spacingAndGlyphs" stroke="#2a2a2a">RLYB211</text>
<text x="33.00" y="266.70" font-size="7.0" text-anchor="end" font-weight="normal" fill="#2a2a2a"  stroke="#2a2a2a">(3 mg/ml)</text>
<text x="120.6" y="284.6" font-size="8.3" fill="#2a2a2a" textLength="74.8" lengthAdjust="spacingAndGlyphs" stroke="#2a2a2a">Fluorescence intensity</text>
<path d="M37.40,234.30 L37.40,234.30 L37.80,234.30 L38.20,234.05 L38.60,233.54 L39.00,233.19 L39.40,232.84 L39.80,231.88 L40.20,231.88 L40.60,231.87 L41.00,232.42 L41.40,232.75 L41.80,232.06 L42.20,232.20 L42.60,231.56 L43.00,231.89 L43.40,231.87 L43.80,231.57 L44.20,230.98 L44.60,231.32 L45.00,230.94 L45.40,230.28 L45.80,229.70 L46.20,229.52 L46.60,229.17 L47.00,228.14 L47.40,228.46 L47.80,227.08 L48.20,226.79 L48.60,226.12 L49.00,225.34 L49.40,224.52 L49.80,223.40 L50.20,223.32 L50.60,222.50 L51.00,222.19 L51.40,222.17 L51.80,221.76 L52.20,220.15 L52.60,218.11 L53.00,217.04 L53.40,216.06 L53.80,215.45 L54.20,213.91 L54.60,212.02 L55.00,212.76 L55.40,213.52 L55.80,213.84 L56.20,214.72 L56.60,216.47 L57.00,218.05 L57.40,219.98 L57.80,222.68 L58.20,225.83 L58.60,228.84 L59.00,229.62 L59.40,231.79 L59.80,232.70 L60.20,232.91 L60.60,233.66 L61.00,234.17 L61.40,234.30 L61.80,234.30 L62.20,234.30 L62.60,234.30 L63.00,234.30 L63.40,234.30 L63.80,234.30 L64.20,234.30 L64.60,234.30 L65.00,234.30 L65.40,234.30 L65.80,234.30 L66.20,234.30 L66.60,234.30 L67.00,234.30 L67.40,234.30 L67.80,234.30 L68.20,234.30 L68.60,234.30 L69.00,234.30 L69.40,234.30 L69.80,234.30 L70.20,234.30 L70.60,234.30 L71.00,234.30 L71.40,234.30 L71.80,234.30 L72.20,234.30 L72.60,234.30 L73.00,234.30 L73.40,234.30 L73.80,234.30 L74.20,234.30 L74.60,234.30 L75.00,234.30 L75.40,234.30 L75.80,234.30 L76.20,234.30 L76.60,234.30 L77.00,234.30 L77.40,234.30 L77.80,234.30 L78.20,234.30 L78.60,234.30 L79.00,234.30 L79.40,234.30 L79.80,234.30 L80.20,234.30 L80.60,234.30 L81.00,234.30 L81.40,234.30 L81.80,234.30 L82.20,234.30 L82.60,234.30 L83.00,234.30 L83.40,234.30 L83.80,234.30 L84.20,234.30 L84.60,234.30 L85.00,234.30 L85.40,234.30 L85.80,234.30 L86.20,234.30 L86.60,234.30 L87.00,234.30 L87.40,234.30 L87.80,234.30 L88.20,234.30 L88.60,234.30 L89.00,234.30 L89.40,234.30 L89.80,234.30 L90.20,234.30 L90.60,234.30 L91.00,234.30 L91.40,234.30 L91.80,234.30 L92.20,234.30 L92.60,234.30 L93.00,234.30 L93.40,234.30 L93.40,234.30 Z" fill="rgba(160,192,225,0.45)" stroke="none"/>
<path d="M37.40,234.30 L37.80,234.30 L38.20,234.05 L38.60,233.54 L39.00,233.19 L39.40,232.84 L39.80,231.88 L40.20,231.88 L40.60,231.87 L41.00,232.42 L41.40,232.75 L41.80,232.06 L42.20,232.20 L42.60,231.56 L43.00,231.89 L43.40,231.87 L43.80,231.57 L44.20,230.98 L44.60,231.32 L45.00,230.94 L45.40,230.28 L45.80,229.70 L46.20,229.52 L46.60,229.17 L47.00,228.14 L47.40,228.46 L47.80,227.08 L48.20,226.79 L48.60,226.12 L49.00,225.34 L49.40,224.52 L49.80,223.40 L50.20,223.32 L50.60,222.50 L51.00,222.19 L51.40,222.17 L51.80,221.76 L52.20,220.15 L52.60,218.11 L53.00,217.04 L53.40,216.06 L53.80,215.45 L54.20,213.91 L54.60,212.02 L55.00,212.76 L55.40,213.52 L55.80,213.84 L56.20,214.72 L56.60,216.47 L57.00,218.05 L57.40,219.98 L57.80,222.68 L58.20,225.83 L58.60,228.84 L59.00,229.62 L59.40,231.79 L59.80,232.70 L60.20,232.91 L60.60,233.66 L61.00,234.17 L61.40,234.30 L61.80,234.30 L62.20,234.30 L62.60,234.30 L63.00,234.30 L63.40,234.30 L63.80,234.30 L64.20,234.30 L64.60,234.30 L65.00,234.30 L65.40,234.30 L65.80,234.30 L66.20,234.30 L66.60,234.30 L67.00,234.30 L67.40,234.30 L67.80,234.30 L68.20,234.30 L68.60,234.30 L69.00,234.30 L69.40,234.30 L69.80,234.30 L70.20,234.30 L70.60,234.30 L71.00,234.30 L71.40,234.30 L71.80,234.30 L72.20,234.30 L72.60,234.30 L73.00,234.30 L73.40,234.30 L73.80,234.30 L74.20,234.30 L74.60,234.30 L75.00,234.30 L75.40,234.30 L75.80,234.30 L76.20,234.30 L76.60,234.30 L77.00,234.30 L77.40,234.30 L77.80,234.30 L78.20,234.30 L78.60,234.30 L79.00,234.30 L79.40,234.30 L79.80,234.30 L80.20,234.30 L80.60,234.30 L81.00,234.30 L81.40,234.30 L81.80,234.30 L82.20,234.30 L82.60,234.30 L83.00,234.30 L83.40,234.30 L83.80,234.30 L84.20,234.30 L84.60,234.30 L85.00,234.30 L85.40,234.30 L85.80,234.30 L86.20,234.30 L86.60,234.30 L87.00,234.30 L87.40,234.30 L87.80,234.30 L88.20,234.30 L88.60,234.30 L89.00,234.30 L89.40,234.30 L89.80,234.30 L90.20,234.30 L90.60,234.30 L91.00,234.30 L91.40,234.30 L91.80,234.30 L92.20,234.30 L92.60,234.30 L93.00,234.30 L93.40,234.30" fill="none" stroke="#213f66" stroke-width="1.1" stroke-linejoin="round"/>
<path d="M37.40,248.00 L37.40,248.00 L37.80,248.00 L38.20,248.00 L38.60,248.00 L39.00,248.00 L39.40,247.63 L39.80,247.26 L40.20,247.20 L40.60,246.67 L41.00,246.99 L41.40,246.35 L41.80,246.18 L42.20,246.27 L42.60,245.87 L43.00,246.18 L43.40,245.64 L43.80,245.54 L44.20,245.36 L44.60,245.28 L45.00,244.74 L45.40,244.42 L45.80,244.60 L46.20,244.18 L46.60,244.48 L47.00,243.67 L47.40,243.47 L47.80,242.92 L48.20,242.59 L48.60,242.51 L49.00,241.85 L49.40,241.03 L49.80,240.93 L50.20,239.73 L50.60,239.20 L51.00,238.52 L51.40,237.84 L51.80,236.47 L52.20,236.32 L52.60,235.57 L53.00,234.82 L53.40,233.77 L53.80,233.89 L54.20,233.00 L54.60,232.34 L55.00,231.97 L55.40,232.46 L55.80,232.86 L56.20,234.14 L56.60,235.10 L57.00,236.23 L57.40,237.33 L57.80,238.83 L58.20,241.13 L58.60,242.51 L59.00,243.69 L59.40,244.92 L59.80,245.72 L60.20,246.05 L60.60,246.77 L61.00,247.42 L61.40,247.40 L61.80,247.43 L62.20,247.46 L62.60,247.49 L63.00,247.52 L63.40,247.55 L63.80,247.57 L64.20,247.60 L64.60,247.63 L65.00,247.66 L65.40,247.69 L65.80,247.72 L66.20,247.75 L66.60,247.78 L67.00,247.80 L67.40,247.80 L67.80,247.79 L68.20,247.79 L68.60,247.78 L69.00,247.78 L69.40,247.78 L69.80,247.77 L70.20,247.77 L70.60,247.76 L71.00,247.76 L71.40,247.76 L71.80,247.75 L72.20,247.75 L72.60,247.75 L73.00,247.74 L73.40,247.74 L73.80,247.73 L74.20,247.73 L74.60,247.73 L75.00,247.72 L75.40,247.72 L75.80,247.72 L76.20,247.71 L76.60,247.71 L77.00,247.70 L77.40,247.70 L77.80,247.69 L78.20,247.68 L78.60,247.68 L79.00,247.67 L79.40,247.66 L79.80,247.65 L80.20,247.64 L80.60,247.64 L81.00,247.63 L81.40,247.62 L81.80,247.61 L82.20,247.60 L82.60,247.60 L83.00,247.59 L83.40,247.58 L83.80,247.57 L84.20,247.56 L84.60,247.56 L85.00,247.55 L85.40,247.54 L85.80,247.53 L86.20,247.52 L86.60,247.52 L87.00,247.51 L87.40,247.50 L87.80,247.53 L88.20,247.56 L88.60,247.59 L89.00,247.62 L89.40,247.65 L89.80,247.68 L90.20,247.71 L90.60,247.74 L91.00,247.77 L91.40,247.80 L91.80,247.85 L92.20,247.90 L92.60,247.95 L93.00,248.00 L93.40,248.00 L93.40,248.00 Z" fill="rgba(150,212,150,0.38)" stroke="none"/>
<path d="M37.40,248.00 L37.80,248.00 L38.20,248.00 L38.60,248.00 L39.00,248.00 L39.40,247.63 L39.80,247.26 L40.20,247.20 L40.60,246.67 L41.00,246.99 L41.40,246.35 L41.80,246.18 L42.20,246.27 L42.60,245.87 L43.00,246.18 L43.40,245.64 L43.80,245.54 L44.20,245.36 L44.60,245.28 L45.00,244.74 L45.40,244.42 L45.80,244.60 L46.20,244.18 L46.60,244.48 L47.00,243.67 L47.40,243.47 L47.80,242.92 L48.20,242.59 L48.60,242.51 L49.00,241.85 L49.40,241.03 L49.80,240.93 L50.20,239.73 L50.60,239.20 L51.00,238.52 L51.40,237.84 L51.80,236.47 L52.20,236.32 L52.60,235.57 L53.00,234.82 L53.40,233.77 L53.80,233.89 L54.20,233.00 L54.60,232.34 L55.00,231.97 L55.40,232.46 L55.80,232.86 L56.20,234.14 L56.60,235.10 L57.00,236.23 L57.40,237.33 L57.80,238.83 L58.20,241.13 L58.60,242.51 L59.00,243.69 L59.40,244.92 L59.80,245.72 L60.20,246.05 L60.60,246.77 L61.00,247.42 L61.40,247.40 L61.80,247.43 L62.20,247.46 L62.60,247.49 L63.00,247.52 L63.40,247.55 L63.80,247.57 L64.20,247.60 L64.60,247.63 L65.00,247.66 L65.40,247.69 L65.80,247.72 L66.20,247.75 L66.60,247.78 L67.00,247.80 L67.40,247.80 L67.80,247.79 L68.20,247.79 L68.60,247.78 L69.00,247.78 L69.40,247.78 L69.80,247.77 L70.20,247.77 L70.60,247.76 L71.00,247.76 L71.40,247.76 L71.80,247.75 L72.20,247.75 L72.60,247.75 L73.00,247.74 L73.40,247.74 L73.80,247.73 L74.20,247.73 L74.60,247.73 L75.00,247.72 L75.40,247.72 L75.80,247.72 L76.20,247.71 L76.60,247.71 L77.00,247.70 L77.40,247.70 L77.80,247.69 L78.20,247.68 L78.60,247.68 L79.00,247.67 L79.40,247.66 L79.80,247.65 L80.20,247.64 L80.60,247.64 L81.00,247.63 L81.40,247.62 L81.80,247.61 L82.20,247.60 L82.60,247.60 L83.00,247.59 L83.40,247.58 L83.80,247.57 L84.20,247.56 L84.60,247.56 L85.00,247.55 L85.40,247.54 L85.80,247.53 L86.20,247.52 L86.60,247.52 L87.00,247.51 L87.40,247.50 L87.80,247.53 L88.20,247.56 L88.60,247.59 L89.00,247.62 L89.40,247.65 L89.80,247.68 L90.20,247.71 L90.60,247.74 L91.00,247.77 L91.40,247.80 L91.80,247.85 L92.20,247.90 L92.60,247.95 L93.00,248.00 L93.40,248.00" fill="none" stroke="#3c9e4c" stroke-width="1.1" stroke-linejoin="round"/>
<path d="M37.40,261.80 L37.40,261.80 L37.80,261.80 L38.20,261.80 L38.60,261.80 L39.00,261.71 L39.40,261.36 L39.80,261.00 L40.20,260.64 L40.60,260.25 L41.00,259.64 L41.40,259.26 L41.80,259.46 L42.20,259.59 L42.60,259.46 L43.00,259.37 L43.40,259.90 L43.80,258.96 L44.20,258.88 L44.60,258.61 L45.00,258.50 L45.40,258.68 L45.80,258.49 L46.20,258.36 L46.60,257.48 L47.00,257.59 L47.40,257.19 L47.80,256.66 L48.20,256.30 L48.60,255.44 L49.00,255.00 L49.40,254.35 L49.80,253.51 L50.20,253.06 L50.60,252.32 L51.00,252.13 L51.40,250.86 L51.80,250.16 L52.20,249.65 L52.60,248.62 L53.00,247.20 L53.40,245.86 L53.80,244.74 L54.20,242.81 L54.60,241.40 L55.00,241.34 L55.40,241.56 L55.80,242.14 L56.20,242.36 L56.60,244.01 L57.00,245.95 L57.40,247.30 L57.80,250.61 L58.20,253.44 L58.60,255.32 L59.00,257.29 L59.40,258.86 L59.80,259.73 L60.20,261.42 L60.60,261.44 L61.00,261.62 L61.40,261.80 L61.80,261.80 L62.20,261.80 L62.60,261.80 L63.00,261.80 L63.40,261.80 L63.80,261.80 L64.20,261.80 L64.60,261.80 L65.00,261.80 L65.40,261.80 L65.80,261.80 L66.20,261.80 L66.60,261.80 L67.00,261.80 L67.40,261.80 L67.80,261.80 L68.20,261.80 L68.60,261.80 L69.00,261.80 L69.40,261.80 L69.80,261.80 L70.20,261.80 L70.60,261.80 L71.00,261.80 L71.40,261.80 L71.80,261.80 L72.20,261.80 L72.60,261.80 L73.00,261.80 L73.40,261.80 L73.80,261.80 L74.20,261.80 L74.60,261.80 L75.00,261.80 L75.40,261.80 L75.80,261.80 L76.20,261.80 L76.60,261.80 L77.00,261.80 L77.40,261.80 L77.80,261.80 L78.20,261.80 L78.60,261.80 L79.00,261.80 L79.40,261.80 L79.80,261.80 L80.20,261.80 L80.60,261.80 L81.00,261.80 L81.40,261.80 L81.80,261.80 L82.20,261.80 L82.60,261.80 L83.00,261.80 L83.40,261.80 L83.80,261.80 L84.20,261.80 L84.60,261.80 L85.00,261.80 L85.40,261.80 L85.80,261.80 L86.20,261.80 L86.60,261.80 L87.00,261.80 L87.40,261.80 L87.80,261.80 L88.20,261.80 L88.60,261.80 L89.00,261.80 L89.40,261.80 L89.80,261.80 L90.20,261.80 L90.60,261.80 L91.00,261.80 L91.40,261.80 L91.80,261.80 L92.20,261.80 L92.60,261.80 L93.00,261.80 L93.40,261.80 L93.40,261.80 Z" fill="rgba(238,128,150,0.50)" stroke="none"/>
<path d="M37.40,261.80 L37.80,261.80 L38.20,261.80 L38.60,261.80 L39.00,261.71 L39.40,261.36 L39.80,261.00 L40.20,260.64 L40.60,260.25 L41.00,259.64 L41.40,259.26 L41.80,259.46 L42.20,259.59 L42.60,259.46 L43.00,259.37 L43.40,259.90 L43.80,258.96 L44.20,258.88 L44.60,258.61 L45.00,258.50 L45.40,258.68 L45.80,258.49 L46.20,258.36 L46.60,257.48 L47.00,257.59 L47.40,257.19 L47.80,256.66 L48.20,256.30 L48.60,255.44 L49.00,255.00 L49.40,254.35 L49.80,253.51 L50.20,253.06 L50.60,252.32 L51.00,252.13 L51.40,250.86 L51.80,250.16 L52.20,249.65 L52.60,248.62 L53.00,247.20 L53.40,245.86 L53.80,244.74 L54.20,242.81 L54.60,241.40 L55.00,241.34 L55.40,241.56 L55.80,242.14 L56.20,242.36 L56.60,244.01 L57.00,245.95 L57.40,247.30 L57.80,250.61 L58.20,253.44 L58.60,255.32 L59.00,257.29 L59.40,258.86 L59.80,259.73 L60.20,261.42 L60.60,261.44 L61.00,261.62 L61.40,261.80 L61.80,261.80 L62.20,261.80 L62.60,261.80 L63.00,261.80 L63.40,261.80 L63.80,261.80 L64.20,261.80 L64.60,261.80 L65.00,261.80 L65.40,261.80 L65.80,261.80 L66.20,261.80 L66.60,261.80 L67.00,261.80 L67.40,261.80 L67.80,261.80 L68.20,261.80 L68.60,261.80 L69.00,261.80 L69.40,261.80 L69.80,261.80 L70.20,261.80 L70.60,261.80 L71.00,261.80 L71.40,261.80 L71.80,261.80 L72.20,261.80 L72.60,261.80 L73.00,261.80 L73.40,261.80 L73.80,261.80 L74.20,261.80 L74.60,261.80 L75.00,261.80 L75.40,261.80 L75.80,261.80 L76.20,261.80 L76.60,261.80 L77.00,261.80 L77.40,261.80 L77.80,261.80 L78.20,261.80 L78.60,261.80 L79.00,261.80 L79.40,261.80 L79.80,261.80 L80.20,261.80 L80.60,261.80 L81.00,261.80 L81.40,261.80 L81.80,261.80 L82.20,261.80 L82.60,261.80 L83.00,261.80 L83.40,261.80 L83.80,261.80 L84.20,261.80 L84.60,261.80 L85.00,261.80 L85.40,261.80 L85.80,261.80 L86.20,261.80 L86.60,261.80 L87.00,261.80 L87.40,261.80 L87.80,261.80 L88.20,261.80 L88.60,261.80 L89.00,261.80 L89.40,261.80 L89.80,261.80 L90.20,261.80 L90.60,261.80 L91.00,261.80 L91.40,261.80 L91.80,261.80 L92.20,261.80 L92.60,261.80 L93.00,261.80 L93.40,261.80" fill="none" stroke="#c41d42" stroke-width="1.1" stroke-linejoin="round"/>
<rect x="37.40" y="206.20" width="56.00" height="56.10" fill="none" stroke="#000" stroke-width="1.35"/>
<line x1="37.40" y1="262.30" x2="37.40" y2="263.90" stroke="#000" stroke-width="0.7" />
<text x="34.70" y="272.90" font-size="6.2" fill="#2a2a2a" textLength="5.5" lengthAdjust="spacingAndGlyphs" stroke="#2a2a2a">10</text>
<text x="40.50" y="269.40" font-size="3.9" fill="#2a2a2a" textLength="1.6" lengthAdjust="spacingAndGlyphs" stroke="#2a2a2a">0</text>
<line x1="47.60" y1="262.30" x2="47.60" y2="263.90" stroke="#000" stroke-width="0.7" />
<text x="44.90" y="272.90" font-size="6.2" fill="#2a2a2a" textLength="5.5" lengthAdjust="spacingAndGlyphs" stroke="#2a2a2a">10</text>
<text x="50.70" y="269.40" font-size="3.9" fill="#2a2a2a" textLength="1.6" lengthAdjust="spacingAndGlyphs" stroke="#2a2a2a">1</text>
<line x1="57.80" y1="262.30" x2="57.80" y2="263.90" stroke="#000" stroke-width="0.7" />
<text x="55.10" y="272.90" font-size="6.2" fill="#2a2a2a" textLength="5.5" lengthAdjust="spacingAndGlyphs" stroke="#2a2a2a">10</text>
<text x="60.90" y="269.40" font-size="3.9" fill="#2a2a2a" textLength="1.6" lengthAdjust="spacingAndGlyphs" stroke="#2a2a2a">2</text>
<line x1="68.00" y1="262.30" x2="68.00" y2="263.90" stroke="#000" stroke-width="0.7" />
<text x="65.30" y="272.90" font-size="6.2" fill="#2a2a2a" textLength="5.5" lengthAdjust="spacingAndGlyphs" stroke="#2a2a2a">10</text>
<text x="71.10" y="269.40" font-size="3.9" fill="#2a2a2a" textLength="1.6" lengthAdjust="spacingAndGlyphs" stroke="#2a2a2a">3</text>
<line x1="78.20" y1="262.30" x2="78.20" y2="263.90" stroke="#000" stroke-width="0.7" />
<text x="75.50" y="272.90" font-size="6.2" fill="#2a2a2a" textLength="5.5" lengthAdjust="spacingAndGlyphs" stroke="#2a2a2a">10</text>
<text x="81.30" y="269.40" font-size="3.9" fill="#2a2a2a" textLength="1.6" lengthAdjust="spacingAndGlyphs" stroke="#2a2a2a">4</text>
<line x1="88.40" y1="262.30" x2="88.40" y2="263.90" stroke="#000" stroke-width="0.7" />
<text x="85.70" y="272.90" font-size="6.2" fill="#2a2a2a" textLength="5.5" lengthAdjust="spacingAndGlyphs" stroke="#2a2a2a">10</text>
<text x="91.50" y="269.40" font-size="3.9" fill="#2a2a2a" textLength="1.6" lengthAdjust="spacingAndGlyphs" stroke="#2a2a2a">5</text>
<path d="M99.40,234.30 L99.40,234.30 L99.80,234.30 L100.20,234.18 L100.60,233.92 L101.00,233.55 L101.40,233.16 L101.80,232.39 L102.20,232.13 L102.60,231.91 L103.00,232.29 L103.40,232.30 L103.80,232.59 L104.20,232.15 L104.60,232.47 L105.00,232.10 L105.40,232.36 L105.80,232.30 L106.20,231.63 L106.60,231.32 L107.00,231.29 L107.40,231.16 L107.80,230.91 L108.20,230.74 L108.60,230.95 L109.00,230.45 L109.40,230.35 L109.80,230.33 L110.20,229.96 L110.60,229.35 L111.00,228.99 L111.40,228.22 L111.80,227.29 L112.20,226.95 L112.60,225.71 L113.00,224.90 L113.40,224.27 L113.80,224.14 L114.20,223.62 L114.60,222.51 L115.00,221.30 L115.40,220.21 L115.80,218.92 L116.20,217.75 L116.60,216.89 L117.00,216.42 L117.40,215.83 L117.80,216.35 L118.20,217.65 L118.60,218.01 L119.00,218.88 L119.40,220.10 L119.80,221.76 L120.20,224.17 L120.60,226.61 L121.00,227.85 L121.40,229.67 L121.80,230.67 L122.20,231.68 L122.60,232.59 L123.00,232.99 L123.40,232.90 L123.80,233.70 L124.20,233.96 L124.60,234.07 L125.00,234.19 L125.40,234.30 L125.80,234.30 L126.20,234.30 L126.60,234.30 L127.00,234.30 L127.40,234.30 L127.80,234.30 L128.20,234.30 L128.60,234.30 L129.00,234.30 L129.40,234.30 L129.80,234.30 L130.20,234.30 L130.60,234.30 L131.00,234.30 L131.40,234.30 L131.80,234.30 L132.20,234.30 L132.60,234.30 L133.00,234.30 L133.40,234.30 L133.80,234.30 L134.20,234.30 L134.60,234.30 L135.00,234.30 L135.40,234.30 L135.80,234.30 L136.20,234.30 L136.60,234.30 L137.00,234.30 L137.40,234.30 L137.80,234.30 L138.20,234.30 L138.60,234.30 L139.00,234.30 L139.40,234.30 L139.80,234.30 L140.20,234.30 L140.60,234.30 L141.00,234.30 L141.40,234.30 L141.80,234.30 L142.20,234.30 L142.60,234.30 L143.00,234.30 L143.40,234.30 L143.80,234.30 L144.20,234.30 L144.60,234.30 L145.00,234.30 L145.40,234.30 L145.80,234.30 L146.20,234.30 L146.60,234.30 L147.00,234.30 L147.40,234.30 L147.80,234.30 L148.20,234.30 L148.60,234.30 L149.00,234.30 L149.40,234.30 L149.80,234.30 L150.20,234.30 L150.60,234.30 L151.00,234.30 L151.40,234.30 L151.80,234.30 L152.20,234.30 L152.60,234.30 L153.00,234.30 L153.40,234.30 L153.80,234.30 L154.20,234.30 L154.60,234.30 L155.00,234.30 L155.40,234.30 L155.40,234.30 Z" fill="rgba(160,192,225,0.45)" stroke="none"/>
<path d="M99.40,234.30 L99.80,234.30 L100.20,234.18 L100.60,233.92 L101.00,233.55 L101.40,233.16 L101.80,232.39 L102.20,232.13 L102.60,231.91 L103.00,232.29 L103.40,232.30 L103.80,232.59 L104.20,232.15 L104.60,232.47 L105.00,232.10 L105.40,232.36 L105.80,232.30 L106.20,231.63 L106.60,231.32 L107.00,231.29 L107.40,231.16 L107.80,230.91 L108.20,230.74 L108.60,230.95 L109.00,230.45 L109.40,230.35 L109.80,230.33 L110.20,229.96 L110.60,229.35 L111.00,228.99 L111.40,228.22 L111.80,227.29 L112.20,226.95 L112.60,225.71 L113.00,224.90 L113.40,224.27 L113.80,224.14 L114.20,223.62 L114.60,222.51 L115.00,221.30 L115.40,220.21 L115.80,218.92 L116.20,217.75 L116.60,216.89 L117.00,216.42 L117.40,215.83 L117.80,216.35 L118.20,217.65 L118.60,218.01 L119.00,218.88 L119.40,220.10 L119.80,221.76 L120.20,224.17 L120.60,226.61 L121.00,227.85 L121.40,229.67 L121.80,230.67 L122.20,231.68 L122.60,232.59 L123.00,232.99 L123.40,232.90 L123.80,233.70 L124.20,233.96 L124.60,234.07 L125.00,234.19 L125.40,234.30 L125.80,234.30 L126.20,234.30 L126.60,234.30 L127.00,234.30 L127.40,234.30 L127.80,234.30 L128.20,234.30 L128.60,234.30 L129.00,234.30 L129.40,234.30 L129.80,234.30 L130.20,234.30 L130.60,234.30 L131.00,234.30 L131.40,234.30 L131.80,234.30 L132.20,234.30 L132.60,234.30 L133.00,234.30 L133.40,234.30 L133.80,234.30 L134.20,234.30 L134.60,234.30 L135.00,234.30 L135.40,234.30 L135.80,234.30 L136.20,234.30 L136.60,234.30 L137.00,234.30 L137.40,234.30 L137.80,234.30 L138.20,234.30 L138.60,234.30 L139.00,234.30 L139.40,234.30 L139.80,234.30 L140.20,234.30 L140.60,234.30 L141.00,234.30 L141.40,234.30 L141.80,234.30 L142.20,234.30 L142.60,234.30 L143.00,234.30 L143.40,234.30 L143.80,234.30 L144.20,234.30 L144.60,234.30 L145.00,234.30 L145.40,234.30 L145.80,234.30 L146.20,234.30 L146.60,234.30 L147.00,234.30 L147.40,234.30 L147.80,234.30 L148.20,234.30 L148.60,234.30 L149.00,234.30 L149.40,234.30 L149.80,234.30 L150.20,234.30 L150.60,234.30 L151.00,234.30 L151.40,234.30 L151.80,234.30 L152.20,234.30 L152.60,234.30 L153.00,234.30 L153.40,234.30 L153.80,234.30 L154.20,234.30 L154.60,234.30 L155.00,234.30 L155.40,234.30" fill="none" stroke="#213f66" stroke-width="1.1" stroke-linejoin="round"/>
<path d="M99.40,248.00 L99.40,248.00 L99.80,248.00 L100.20,248.00 L100.60,247.95 L101.00,247.85 L101.40,247.72 L101.80,247.55 L102.20,247.39 L102.60,247.23 L103.00,246.86 L103.40,247.20 L103.80,247.11 L104.20,246.96 L104.60,246.15 L105.00,246.11 L105.40,246.57 L105.80,245.83 L106.20,245.56 L106.60,245.72 L107.00,245.80 L107.40,245.36 L107.80,245.47 L108.20,245.30 L108.60,244.18 L109.00,244.20 L109.40,244.04 L109.80,243.41 L110.20,243.56 L110.60,242.75 L111.00,242.38 L111.40,242.52 L111.80,242.07 L112.20,241.62 L112.60,241.26 L113.00,240.53 L113.40,240.42 L113.80,239.79 L114.20,239.56 L114.60,238.37 L115.00,238.38 L115.40,237.80 L115.80,237.22 L116.20,236.54 L116.60,236.57 L117.00,235.72 L117.40,235.70 L117.80,235.27 L118.20,235.48 L118.60,236.33 L119.00,236.35 L119.40,236.99 L119.80,237.76 L120.20,237.87 L120.60,239.26 L121.00,239.81 L121.40,240.41 L121.80,241.38 L122.20,242.40 L122.60,243.05 L123.00,243.83 L123.40,244.44 L123.80,245.44 L124.20,245.41 L124.60,246.07 L125.00,246.43 L125.40,246.37 L125.80,246.93 L126.20,247.02 L126.60,247.22 L127.00,247.36 L127.40,247.50 L127.80,247.50 L128.20,247.50 L128.60,247.50 L129.00,247.50 L129.40,247.50 L129.80,247.50 L130.20,247.50 L130.60,247.50 L131.00,247.50 L131.40,247.50 L131.80,247.50 L132.20,247.50 L132.60,247.50 L133.00,247.50 L133.40,247.50 L133.80,247.50 L134.20,247.50 L134.60,247.50 L135.00,247.50 L135.40,247.50 L135.80,247.50 L136.20,247.50 L136.60,247.50 L137.00,247.50 L137.40,247.50 L137.80,247.50 L138.20,247.50 L138.60,247.50 L139.00,247.50 L139.40,247.50 L139.80,247.50 L140.20,247.50 L140.60,247.50 L141.00,247.50 L141.40,247.50 L141.80,247.50 L142.20,247.50 L142.60,247.50 L143.00,247.50 L143.40,247.50 L143.80,247.50 L144.20,247.50 L144.60,247.50 L145.00,247.50 L145.40,247.50 L145.80,247.50 L146.20,247.50 L146.60,247.50 L147.00,247.50 L147.40,247.50 L147.80,247.50 L148.20,247.50 L148.60,247.50 L149.00,247.50 L149.40,247.50 L149.80,247.50 L150.20,247.50 L150.60,247.50 L151.00,247.50 L151.40,247.50 L151.80,247.50 L152.20,247.50 L152.60,247.50 L153.00,247.50 L153.40,247.50 L153.80,247.50 L154.20,247.50 L154.60,247.50 L155.00,247.50 L155.40,247.50 L155.40,248.00 Z" fill="rgba(150,212,150,0.38)" stroke="none"/>
<path d="M99.40,248.00 L99.80,248.00 L100.20,248.00 L100.60,247.95 L101.00,247.85 L101.40,247.72 L101.80,247.55 L102.20,247.39 L102.60,247.23 L103.00,246.86 L103.40,247.20 L103.80,247.11 L104.20,246.96 L104.60,246.15 L105.00,246.11 L105.40,246.57 L105.80,245.83 L106.20,245.56 L106.60,245.72 L107.00,245.80 L107.40,245.36 L107.80,245.47 L108.20,245.30 L108.60,244.18 L109.00,244.20 L109.40,244.04 L109.80,243.41 L110.20,243.56 L110.60,242.75 L111.00,242.38 L111.40,242.52 L111.80,242.07 L112.20,241.62 L112.60,241.26 L113.00,240.53 L113.40,240.42 L113.80,239.79 L114.20,239.56 L114.60,238.37 L115.00,238.38 L115.40,237.80 L115.80,237.22 L116.20,236.54 L116.60,236.57 L117.00,235.72 L117.40,235.70 L117.80,235.27 L118.20,235.48 L118.60,236.33 L119.00,236.35 L119.40,236.99 L119.80,237.76 L120.20,237.87 L120.60,239.26 L121.00,239.81 L121.40,240.41 L121.80,241.38 L122.20,242.40 L122.60,243.05 L123.00,243.83 L123.40,244.44 L123.80,245.44 L124.20,245.41 L124.60,246.07 L125.00,246.43 L125.40,246.37 L125.80,246.93 L126.20,247.02 L126.60,247.22 L127.00,247.36 L127.40,247.50 L127.80,247.50 L128.20,247.50 L128.60,247.50 L129.00,247.50 L129.40,247.50 L129.80,247.50 L130.20,247.50 L130.60,247.50 L131.00,247.50 L131.40,247.50 L131.80,247.50 L132.20,247.50 L132.60,247.50 L133.00,247.50 L133.40,247.50 L133.80,247.50 L134.20,247.50 L134.60,247.50 L135.00,247.50 L135.40,247.50 L135.80,247.50 L136.20,247.50 L136.60,247.50 L137.00,247.50 L137.40,247.50 L137.80,247.50 L138.20,247.50 L138.60,247.50 L139.00,247.50 L139.40,247.50 L139.80,247.50 L140.20,247.50 L140.60,247.50 L141.00,247.50 L141.40,247.50 L141.80,247.50 L142.20,247.50 L142.60,247.50 L143.00,247.50 L143.40,247.50 L143.80,247.50 L144.20,247.50 L144.60,247.50 L145.00,247.50 L145.40,247.50 L145.80,247.50 L146.20,247.50 L146.60,247.50 L147.00,247.50 L147.40,247.50 L147.80,247.50 L148.20,247.50 L148.60,247.50 L149.00,247.50 L149.40,247.50 L149.80,247.50 L150.20,247.50 L150.60,247.50 L151.00,247.50 L151.40,247.50 L151.80,247.50 L152.20,247.50 L152.60,247.50 L153.00,247.50 L153.40,247.50 L153.80,247.50 L154.20,247.50 L154.60,247.50 L155.00,247.50 L155.40,247.50" fill="none" stroke="#3c9e4c" stroke-width="1.1" stroke-linejoin="round"/>
<path d="M99.40,261.80 L99.40,261.80 L99.80,261.78 L100.20,261.75 L100.60,261.73 L101.00,261.70 L101.40,261.68 L101.80,261.66 L102.20,261.63 L102.60,261.61 L103.00,261.58 L103.40,261.56 L103.80,261.54 L104.20,261.51 L104.60,261.48 L105.00,261.44 L105.40,261.40 L105.80,261.36 L106.20,261.32 L106.60,261.28 L107.00,261.24 L107.40,261.20 L107.80,261.16 L108.20,261.12 L108.60,261.08 L109.00,261.04 L109.40,261.00 L109.80,260.74 L110.20,260.57 L110.60,260.97 L111.00,260.79 L111.40,260.86 L111.80,260.82 L112.20,260.63 L112.60,260.80 L113.00,260.68 L113.40,260.67 L113.80,260.20 L114.20,260.37 L114.60,260.15 L115.00,260.04 L115.40,260.60 L115.80,260.28 L116.20,259.88 L116.60,259.92 L117.00,260.50 L117.40,260.47 L117.80,260.14 L118.20,260.43 L118.60,260.23 L119.00,260.33 L119.40,259.75 L119.80,259.60 L120.20,259.46 L120.60,260.08 L121.00,259.53 L121.40,259.42 L121.80,259.63 L122.20,258.70 L122.60,258.36 L123.00,258.78 L123.40,257.85 L123.80,258.09 L124.20,256.98 L124.60,255.49 L125.00,254.59 L125.40,254.16 L125.80,252.48 L126.20,250.83 L126.60,249.41 L127.00,247.96 L127.40,245.86 L127.80,243.10 L128.20,241.33 L128.60,238.74 L129.00,237.60 L129.40,236.73 L129.80,237.07 L130.20,237.42 L130.60,238.47 L131.00,240.78 L131.40,241.87 L131.80,243.96 L132.20,245.93 L132.60,248.91 L133.00,250.96 L133.40,253.14 L133.80,253.80 L134.20,255.57 L134.60,257.02 L135.00,258.07 L135.40,258.14 L135.80,258.73 L136.20,259.74 L136.60,260.35 L137.00,260.17 L137.40,260.83 L137.80,261.07 L138.20,261.25 L138.60,261.44 L139.00,261.62 L139.40,261.80 L139.80,261.80 L140.20,261.80 L140.60,261.80 L141.00,261.80 L141.40,261.80 L141.80,261.80 L142.20,261.80 L142.60,261.80 L143.00,261.80 L143.40,261.80 L143.80,261.80 L144.20,261.80 L144.60,261.80 L145.00,261.80 L145.40,261.80 L145.80,261.80 L146.20,261.80 L146.60,261.80 L147.00,261.80 L147.40,261.80 L147.80,261.80 L148.20,261.80 L148.60,261.80 L149.00,261.80 L149.40,261.80 L149.80,261.80 L150.20,261.80 L150.60,261.80 L151.00,261.80 L151.40,261.80 L151.80,261.80 L152.20,261.80 L152.60,261.80 L153.00,261.80 L153.40,261.80 L153.80,261.80 L154.20,261.80 L154.60,261.80 L155.00,261.80 L155.40,261.80 L155.40,261.80 Z" fill="rgba(238,128,150,0.50)" stroke="none"/>
<path d="M99.40,261.80 L99.80,261.78 L100.20,261.75 L100.60,261.73 L101.00,261.70 L101.40,261.68 L101.80,261.66 L102.20,261.63 L102.60,261.61 L103.00,261.58 L103.40,261.56 L103.80,261.54 L104.20,261.51 L104.60,261.48 L105.00,261.44 L105.40,261.40 L105.80,261.36 L106.20,261.32 L106.60,261.28 L107.00,261.24 L107.40,261.20 L107.80,261.16 L108.20,261.12 L108.60,261.08 L109.00,261.04 L109.40,261.00 L109.80,260.74 L110.20,260.57 L110.60,260.97 L111.00,260.79 L111.40,260.86 L111.80,260.82 L112.20,260.63 L112.60,260.80 L113.00,260.68 L113.40,260.67 L113.80,260.20 L114.20,260.37 L114.60,260.15 L115.00,260.04 L115.40,260.60 L115.80,260.28 L116.20,259.88 L116.60,259.92 L117.00,260.50 L117.40,260.47 L117.80,260.14 L118.20,260.43 L118.60,260.23 L119.00,260.33 L119.40,259.75 L119.80,259.60 L120.20,259.46 L120.60,260.08 L121.00,259.53 L121.40,259.42 L121.80,259.63 L122.20,258.70 L122.60,258.36 L123.00,258.78 L123.40,257.85 L123.80,258.09 L124.20,256.98 L124.60,255.49 L125.00,254.59 L125.40,254.16 L125.80,252.48 L126.20,250.83 L126.60,249.41 L127.00,247.96 L127.40,245.86 L127.80,243.10 L128.20,241.33 L128.60,238.74 L129.00,237.60 L129.40,236.73 L129.80,237.07 L130.20,237.42 L130.60,238.47 L131.00,240.78 L131.40,241.87 L131.80,243.96 L132.20,245.93 L132.60,248.91 L133.00,250.96 L133.40,253.14 L133.80,253.80 L134.20,255.57 L134.60,257.02 L135.00,258.07 L135.40,258.14 L135.80,258.73 L136.20,259.74 L136.60,260.35 L137.00,260.17 L137.40,260.83 L137.80,261.07 L138.20,261.25 L138.60,261.44 L139.00,261.62 L139.40,261.80 L139.80,261.80 L140.20,261.80 L140.60,261.80 L141.00,261.80 L141.40,261.80 L141.80,261.80 L142.20,261.80 L142.60,261.80 L143.00,261.80 L143.40,261.80 L143.80,261.80 L144.20,261.80 L144.60,261.80 L145.00,261.80 L145.40,261.80 L145.80,261.80 L146.20,261.80 L146.60,261.80 L147.00,261.80 L147.40,261.80 L147.80,261.80 L148.20,261.80 L148.60,261.80 L149.00,261.80 L149.40,261.80 L149.80,261.80 L150.20,261.80 L150.60,261.80 L151.00,261.80 L151.40,261.80 L151.80,261.80 L152.20,261.80 L152.60,261.80 L153.00,261.80 L153.40,261.80 L153.80,261.80 L154.20,261.80 L154.60,261.80 L155.00,261.80 L155.40,261.80" fill="none" stroke="#c41d42" stroke-width="1.1" stroke-linejoin="round"/>
<rect x="99.40" y="206.20" width="56.00" height="56.10" fill="none" stroke="#000" stroke-width="1.35"/>
<line x1="99.40" y1="262.30" x2="99.40" y2="263.90" stroke="#000" stroke-width="0.7" />
<text x="96.70" y="272.90" font-size="6.2" fill="#2a2a2a" textLength="5.5" lengthAdjust="spacingAndGlyphs" stroke="#2a2a2a">10</text>
<text x="102.50" y="269.40" font-size="3.9" fill="#2a2a2a" textLength="1.6" lengthAdjust="spacingAndGlyphs" stroke="#2a2a2a">0</text>
<line x1="109.60" y1="262.30" x2="109.60" y2="263.90" stroke="#000" stroke-width="0.7" />
<text x="106.90" y="272.90" font-size="6.2" fill="#2a2a2a" textLength="5.5" lengthAdjust="spacingAndGlyphs" stroke="#2a2a2a">10</text>
<text x="112.70" y="269.40" font-size="3.9" fill="#2a2a2a" textLength="1.6" lengthAdjust="spacingAndGlyphs" stroke="#2a2a2a">1</text>
<line x1="119.80" y1="262.30" x2="119.80" y2="263.90" stroke="#000" stroke-width="0.7" />
<text x="117.10" y="272.90" font-size="6.2" fill="#2a2a2a" textLength="5.5" lengthAdjust="spacingAndGlyphs" stroke="#2a2a2a">10</text>
<text x="122.90" y="269.40" font-size="3.9" fill="#2a2a2a" textLength="1.6" lengthAdjust="spacingAndGlyphs" stroke="#2a2a2a">2</text>
<line x1="130.00" y1="262.30" x2="130.00" y2="263.90" stroke="#000" stroke-width="0.7" />
<text x="127.30" y="272.90" font-size="6.2" fill="#2a2a2a" textLength="5.5" lengthAdjust="spacingAndGlyphs" stroke="#2a2a2a">10</text>
<text x="133.10" y="269.40" font-size="3.9" fill="#2a2a2a" textLength="1.6" lengthAdjust="spacingAndGlyphs" stroke="#2a2a2a">3</text>
<line x1="140.20" y1="262.30" x2="140.20" y2="263.90" stroke="#000" stroke-width="0.7" />
<text x="137.50" y="272.90" font-size="6.2" fill="#2a2a2a" textLength="5.5" lengthAdjust="spacingAndGlyphs" stroke="#2a2a2a">10</text>
<text x="143.30" y="269.40" font-size="3.9" fill="#2a2a2a" textLength="1.6" lengthAdjust="spacingAndGlyphs" stroke="#2a2a2a">4</text>
<line x1="150.40" y1="262.30" x2="150.40" y2="263.90" stroke="#000" stroke-width="0.7" />
<text x="147.70" y="272.90" font-size="6.2" fill="#2a2a2a" textLength="5.5" lengthAdjust="spacingAndGlyphs" stroke="#2a2a2a">10</text>
<text x="153.50" y="269.40" font-size="3.9" fill="#2a2a2a" textLength="1.6" lengthAdjust="spacingAndGlyphs" stroke="#2a2a2a">5</text>
<path d="M161.20,234.30 L161.20,234.30 L161.60,234.30 L162.00,233.91 L162.40,233.22 L162.80,233.61 L163.20,233.49 L163.60,232.76 L164.00,232.84 L164.40,233.00 L164.80,232.11 L165.20,232.38 L165.60,232.23 L166.00,232.87 L166.40,232.18 L166.80,232.79 L167.20,231.86 L167.60,232.02 L168.00,231.92 L168.40,231.52 L168.80,230.98 L169.20,231.36 L169.60,231.19 L170.00,230.50 L170.40,230.43 L170.80,230.22 L171.20,229.84 L171.60,229.62 L172.00,229.15 L172.40,228.54 L172.80,227.97 L173.20,226.99 L173.60,226.84 L174.00,226.07 L174.40,225.79 L174.80,224.96 L175.20,224.59 L175.60,223.70 L176.00,223.24 L176.40,221.83 L176.80,220.95 L177.20,220.23 L177.60,218.93 L178.00,217.47 L178.40,217.46 L178.80,216.16 L179.20,215.85 L179.60,215.10 L180.00,214.00 L180.40,213.60 L180.80,214.05 L181.20,214.45 L181.60,215.21 L182.00,217.28 L182.40,218.33 L182.80,220.44 L183.20,222.67 L183.60,225.04 L184.00,227.03 L184.40,229.15 L184.80,230.94 L185.20,232.49 L185.60,232.31 L186.00,233.17 L186.40,233.68 L186.80,233.79 L187.20,233.99 L187.60,234.12 L188.00,234.24 L188.40,234.30 L188.80,234.30 L189.20,234.30 L189.60,234.30 L190.00,234.30 L190.40,234.30 L190.80,234.30 L191.20,234.30 L191.60,234.30 L192.00,234.30 L192.40,234.30 L192.80,234.30 L193.20,234.30 L193.60,234.30 L194.00,234.30 L194.40,234.30 L194.80,234.30 L195.20,234.30 L195.60,234.30 L196.00,234.30 L196.40,234.30 L196.80,234.30 L197.20,234.30 L197.60,234.30 L198.00,234.30 L198.40,234.30 L198.80,234.30 L199.20,234.30 L199.60,234.30 L200.00,234.30 L200.40,234.30 L200.80,234.30 L201.20,234.30 L201.60,234.30 L202.00,234.30 L202.40,234.30 L202.80,234.30 L203.20,234.30 L203.60,234.30 L204.00,234.30 L204.40,234.30 L204.80,234.30 L205.20,234.30 L205.60,234.30 L206.00,234.30 L206.40,234.30 L206.80,234.30 L207.20,234.30 L207.60,234.30 L208.00,234.30 L208.40,234.30 L208.80,234.30 L209.20,234.30 L209.60,234.30 L210.00,234.30 L210.40,234.30 L210.80,234.30 L211.20,234.30 L211.60,234.30 L212.00,234.30 L212.40,234.30 L212.80,234.30 L213.20,234.30 L213.60,234.30 L214.00,234.30 L214.40,234.30 L214.80,234.30 L215.20,234.30 L215.60,234.30 L216.00,234.30 L216.40,234.30 L216.80,234.30 L217.20,234.30 L217.20,234.30 Z" fill="rgba(160,192,225,0.45)" stroke="none"/>
<path d="M161.20,234.30 L161.60,234.30 L162.00,233.91 L162.40,233.22 L162.80,233.61 L163.20,233.49 L163.60,232.76 L164.00,232.84 L164.40,233.00 L164.80,232.11 L165.20,232.38 L165.60,232.23 L166.00,232.87 L166.40,232.18 L166.80,232.79 L167.20,231.86 L167.60,232.02 L168.00,231.92 L168.40,231.52 L168.80,230.98 L169.20,231.36 L169.60,231.19 L170.00,230.50 L170.40,230.43 L170.80,230.22 L171.20,229.84 L171.60,229.62 L172.00,229.15 L172.40,228.54 L172.80,227.97 L173.20,226.99 L173.60,226.84 L174.00,226.07 L174.40,225.79 L174.80,224.96 L175.20,224.59 L175.60,223.70 L176.00,223.24 L176.40,221.83 L176.80,220.95 L177.20,220.23 L177.60,218.93 L178.00,217.47 L178.40,217.46 L178.80,216.16 L179.20,215.85 L179.60,215.10 L180.00,214.00 L180.40,213.60 L180.80,214.05 L181.20,214.45 L181.60,215.21 L182.00,217.28 L182.40,218.33 L182.80,220.44 L183.20,222.67 L183.60,225.04 L184.00,227.03 L184.40,229.15 L184.80,230.94 L185.20,232.49 L185.60,232.31 L186.00,233.17 L186.40,233.68 L186.80,233.79 L187.20,233.99 L187.60,234.12 L188.00,234.24 L188.40,234.30 L188.80,234.30 L189.20,234.30 L189.60,234.30 L190.00,234.30 L190.40,234.30 L190.80,234.30 L191.20,234.30 L191.60,234.30 L192.00,234.30 L192.40,234.30 L192.80,234.30 L193.20,234.30 L193.60,234.30 L194.00,234.30 L194.40,234.30 L194.80,234.30 L195.20,234.30 L195.60,234.30 L196.00,234.30 L196.40,234.30 L196.80,234.30 L197.20,234.30 L197.60,234.30 L198.00,234.30 L198.40,234.30 L198.80,234.30 L199.20,234.30 L199.60,234.30 L200.00,234.30 L200.40,234.30 L200.80,234.30 L201.20,234.30 L201.60,234.30 L202.00,234.30 L202.40,234.30 L202.80,234.30 L203.20,234.30 L203.60,234.30 L204.00,234.30 L204.40,234.30 L204.80,234.30 L205.20,234.30 L205.60,234.30 L206.00,234.30 L206.40,234.30 L206.80,234.30 L207.20,234.30 L207.60,234.30 L208.00,234.30 L208.40,234.30 L208.80,234.30 L209.20,234.30 L209.60,234.30 L210.00,234.30 L210.40,234.30 L210.80,234.30 L211.20,234.30 L211.60,234.30 L212.00,234.30 L212.40,234.30 L212.80,234.30 L213.20,234.30 L213.60,234.30 L214.00,234.30 L214.40,234.30 L214.80,234.30 L215.20,234.30 L215.60,234.30 L216.00,234.30 L216.40,234.30 L216.80,234.30 L217.20,234.30" fill="none" stroke="#213f66" stroke-width="1.1" stroke-linejoin="round"/>
<path d="M161.20,248.00 L161.20,248.00 L161.60,248.00 L162.00,248.00 L162.40,247.96 L162.80,247.87 L163.20,247.76 L163.60,247.61 L164.00,247.45 L164.40,247.29 L164.80,247.51 L165.20,246.68 L165.60,246.49 L166.00,246.52 L166.40,246.71 L166.80,246.57 L167.20,246.26 L167.60,245.85 L168.00,245.86 L168.40,245.34 L168.80,245.25 L169.20,244.36 L169.60,244.09 L170.00,244.21 L170.40,244.22 L170.80,243.31 L171.20,243.53 L171.60,242.99 L172.00,242.82 L172.40,241.99 L172.80,241.41 L173.20,240.89 L173.60,240.67 L174.00,239.91 L174.40,239.87 L174.80,238.80 L175.20,238.00 L175.60,236.77 L176.00,236.14 L176.40,235.21 L176.80,234.03 L177.20,233.20 L177.60,232.00 L178.00,231.16 L178.40,230.07 L178.80,229.26 L179.20,228.52 L179.60,227.69 L180.00,227.44 L180.40,226.81 L180.80,225.54 L181.20,226.57 L181.60,226.65 L182.00,227.32 L182.40,228.88 L182.80,230.45 L183.20,232.68 L183.60,235.80 L184.00,238.80 L184.40,241.82 L184.80,243.76 L185.20,244.75 L185.60,246.10 L186.00,246.87 L186.40,247.45 L186.80,247.72 L187.20,248.00 L187.60,248.00 L188.00,248.00 L188.40,248.00 L188.80,248.00 L189.20,248.00 L189.60,248.00 L190.00,248.00 L190.40,248.00 L190.80,248.00 L191.20,248.00 L191.60,248.00 L192.00,248.00 L192.40,248.00 L192.80,248.00 L193.20,248.00 L193.60,248.00 L194.00,248.00 L194.40,248.00 L194.80,248.00 L195.20,248.00 L195.60,248.00 L196.00,248.00 L196.40,248.00 L196.80,248.00 L197.20,248.00 L197.60,248.00 L198.00,248.00 L198.40,248.00 L198.80,248.00 L199.20,248.00 L199.60,248.00 L200.00,248.00 L200.40,248.00 L200.80,248.00 L201.20,248.00 L201.60,248.00 L202.00,248.00 L202.40,248.00 L202.80,248.00 L203.20,248.00 L203.60,248.00 L204.00,248.00 L204.40,248.00 L204.80,248.00 L205.20,248.00 L205.60,248.00 L206.00,248.00 L206.40,248.00 L206.80,248.00 L207.20,248.00 L207.60,248.00 L208.00,248.00 L208.40,248.00 L208.80,248.00 L209.20,248.00 L209.60,248.00 L210.00,248.00 L210.40,248.00 L210.80,248.00 L211.20,248.00 L211.60,248.00 L212.00,248.00 L212.40,248.00 L212.80,248.00 L213.20,248.00 L213.60,248.00 L214.00,248.00 L214.40,248.00 L214.80,248.00 L215.20,248.00 L215.60,248.00 L216.00,248.00 L216.40,248.00 L216.80,248.00 L217.20,248.00 L217.20,248.00 Z" fill="rgba(150,212,150,0.38)" stroke="none"/>
<path d="M161.20,248.00 L161.60,248.00 L162.00,248.00 L162.40,247.96 L162.80,247.87 L163.20,247.76 L163.60,247.61 L164.00,247.45 L164.40,247.29 L164.80,247.51 L165.20,246.68 L165.60,246.49 L166.00,246.52 L166.40,246.71 L166.80,246.57 L167.20,246.26 L167.60,245.85 L168.00,245.86 L168.40,245.34 L168.80,245.25 L169.20,244.36 L169.60,244.09 L170.00,244.21 L170.40,244.22 L170.80,243.31 L171.20,243.53 L171.60,242.99 L172.00,242.82 L172.40,241.99 L172.80,241.41 L173.20,240.89 L173.60,240.67 L174.00,239.91 L174.40,239.87 L174.80,238.80 L175.20,238.00 L175.60,236.77 L176.00,236.14 L176.40,235.21 L176.80,234.03 L177.20,233.20 L177.60,232.00 L178.00,231.16 L178.40,230.07 L178.80,229.26 L179.20,228.52 L179.60,227.69 L180.00,227.44 L180.40,226.81 L180.80,225.54 L181.20,226.57 L181.60,226.65 L182.00,227.32 L182.40,228.88 L182.80,230.45 L183.20,232.68 L183.60,235.80 L184.00,238.80 L184.40,241.82 L184.80,243.76 L185.20,244.75 L185.60,246.10 L186.00,246.87 L186.40,247.45 L186.80,247.72 L187.20,248.00 L187.60,248.00 L188.00,248.00 L188.40,248.00 L188.80,248.00 L189.20,248.00 L189.60,248.00 L190.00,248.00 L190.40,248.00 L190.80,248.00 L191.20,248.00 L191.60,248.00 L192.00,248.00 L192.40,248.00 L192.80,248.00 L193.20,248.00 L193.60,248.00 L194.00,248.00 L194.40,248.00 L194.80,248.00 L195.20,248.00 L195.60,248.00 L196.00,248.00 L196.40,248.00 L196.80,248.00 L197.20,248.00 L197.60,248.00 L198.00,248.00 L198.40,248.00 L198.80,248.00 L199.20,248.00 L199.60,248.00 L200.00,248.00 L200.40,248.00 L200.80,248.00 L201.20,248.00 L201.60,248.00 L202.00,248.00 L202.40,248.00 L202.80,248.00 L203.20,248.00 L203.60,248.00 L204.00,248.00 L204.40,248.00 L204.80,248.00 L205.20,248.00 L205.60,248.00 L206.00,248.00 L206.40,248.00 L206.80,248.00 L207.20,248.00 L207.60,248.00 L208.00,248.00 L208.40,248.00 L208.80,248.00 L209.20,248.00 L209.60,248.00 L210.00,248.00 L210.40,248.00 L210.80,248.00 L211.20,248.00 L211.60,248.00 L212.00,248.00 L212.40,248.00 L212.80,248.00 L213.20,248.00 L213.60,248.00 L214.00,248.00 L214.40,248.00 L214.80,248.00 L215.20,248.00 L215.60,248.00 L216.00,248.00 L216.40,248.00 L216.80,248.00 L217.20,248.00" fill="none" stroke="#3c9e4c" stroke-width="1.1" stroke-linejoin="round"/>
<path d="M161.20,261.80 L161.20,261.80 L161.60,261.80 L162.00,261.80 L162.40,261.65 L162.80,261.35 L163.20,261.05 L163.60,260.48 L164.00,260.24 L164.40,260.33 L164.80,259.92 L165.20,259.98 L165.60,259.84 L166.00,260.13 L166.40,260.18 L166.80,259.95 L167.20,259.62 L167.60,259.72 L168.00,258.93 L168.40,259.00 L168.80,258.74 L169.20,258.55 L169.60,258.30 L170.00,258.28 L170.40,258.52 L170.80,257.61 L171.20,257.46 L171.60,257.49 L172.00,257.26 L172.40,256.96 L172.80,257.08 L173.20,256.06 L173.60,256.09 L174.00,255.84 L174.40,255.25 L174.80,254.43 L175.20,254.49 L175.60,253.59 L176.00,252.90 L176.40,252.64 L176.80,252.05 L177.20,251.28 L177.60,250.40 L178.00,249.64 L178.40,249.08 L178.80,248.37 L179.20,247.66 L179.60,246.38 L180.00,245.06 L180.40,243.40 L180.80,242.58 L181.20,241.37 L181.60,240.99 L182.00,240.06 L182.40,239.33 L182.80,239.45 L183.20,239.92 L183.60,240.42 L184.00,242.41 L184.40,244.24 L184.80,246.31 L185.20,248.40 L185.60,251.01 L186.00,252.61 L186.40,255.52 L186.80,256.37 L187.20,257.21 L187.60,258.83 L188.00,259.24 L188.40,259.71 L188.80,260.26 L189.20,261.00 L189.60,261.32 L190.00,261.64 L190.40,261.80 L190.80,261.80 L191.20,261.80 L191.60,261.80 L192.00,261.80 L192.40,261.80 L192.80,261.80 L193.20,261.80 L193.60,261.80 L194.00,261.80 L194.40,261.80 L194.80,261.80 L195.20,261.80 L195.60,261.80 L196.00,261.80 L196.40,261.80 L196.80,261.80 L197.20,261.80 L197.60,261.80 L198.00,261.80 L198.40,261.80 L198.80,261.80 L199.20,261.80 L199.60,261.80 L200.00,261.80 L200.40,261.80 L200.80,261.80 L201.20,261.80 L201.60,261.80 L202.00,261.80 L202.40,261.80 L202.80,261.80 L203.20,261.80 L203.60,261.80 L204.00,261.80 L204.40,261.80 L204.80,261.80 L205.20,261.80 L205.60,261.80 L206.00,261.80 L206.40,261.80 L206.80,261.80 L207.20,261.80 L207.60,261.80 L208.00,261.80 L208.40,261.80 L208.80,261.80 L209.20,261.80 L209.60,261.80 L210.00,261.80 L210.40,261.80 L210.80,261.80 L211.20,261.80 L211.60,261.80 L212.00,261.80 L212.40,261.80 L212.80,261.80 L213.20,261.80 L213.60,261.80 L214.00,261.80 L214.40,261.80 L214.80,261.80 L215.20,261.80 L215.60,261.80 L216.00,261.80 L216.40,261.80 L216.80,261.80 L217.20,261.80 L217.20,261.80 Z" fill="rgba(238,128,150,0.50)" stroke="none"/>
<path d="M161.20,261.80 L161.60,261.80 L162.00,261.80 L162.40,261.65 L162.80,261.35 L163.20,261.05 L163.60,260.48 L164.00,260.24 L164.40,260.33 L164.80,259.92 L165.20,259.98 L165.60,259.84 L166.00,260.13 L166.40,260.18 L166.80,259.95 L167.20,259.62 L167.60,259.72 L168.00,258.93 L168.40,259.00 L168.80,258.74 L169.20,258.55 L169.60,258.30 L170.00,258.28 L170.40,258.52 L170.80,257.61 L171.20,257.46 L171.60,257.49 L172.00,257.26 L172.40,256.96 L172.80,257.08 L173.20,256.06 L173.60,256.09 L174.00,255.84 L174.40,255.25 L174.80,254.43 L175.20,254.49 L175.60,253.59 L176.00,252.90 L176.40,252.64 L176.80,252.05 L177.20,251.28 L177.60,250.40 L178.00,249.64 L178.40,249.08 L178.80,248.37 L179.20,247.66 L179.60,246.38 L180.00,245.06 L180.40,243.40 L180.80,242.58 L181.20,241.37 L181.60,240.99 L182.00,240.06 L182.40,239.33 L182.80,239.45 L183.20,239.92 L183.60,240.42 L184.00,242.41 L184.40,244.24 L184.80,246.31 L185.20,248.40 L185.60,251.01 L186.00,252.61 L186.40,255.52 L186.80,256.37 L187.20,257.21 L187.60,258.83 L188.00,259.24 L188.40,259.71 L188.80,260.26 L189.20,261.00 L189.60,261.32 L190.00,261.64 L190.40,261.80 L190.80,261.80 L191.20,261.80 L191.60,261.80 L192.00,261.80 L192.40,261.80 L192.80,261.80 L193.20,261.80 L193.60,261.80 L194.00,261.80 L194.40,261.80 L194.80,261.80 L195.20,261.80 L195.60,261.80 L196.00,261.80 L196.40,261.80 L196.80,261.80 L197.20,261.80 L197.60,261.80 L198.00,261.80 L198.40,261.80 L198.80,261.80 L199.20,261.80 L199.60,261.80 L200.00,261.80 L200.40,261.80 L200.80,261.80 L201.20,261.80 L201.60,261.80 L202.00,261.80 L202.40,261.80 L202.80,261.80 L203.20,261.80 L203.60,261.80 L204.00,261.80 L204.40,261.80 L204.80,261.80 L205.20,261.80 L205.60,261.80 L206.00,261.80 L206.40,261.80 L206.80,261.80 L207.20,261.80 L207.60,261.80 L208.00,261.80 L208.40,261.80 L208.80,261.80 L209.20,261.80 L209.60,261.80 L210.00,261.80 L210.40,261.80 L210.80,261.80 L211.20,261.80 L211.60,261.80 L212.00,261.80 L212.40,261.80 L212.80,261.80 L213.20,261.80 L213.60,261.80 L214.00,261.80 L214.40,261.80 L214.80,261.80 L215.20,261.80 L215.60,261.80 L216.00,261.80 L216.40,261.80 L216.80,261.80 L217.20,261.80" fill="none" stroke="#c41d42" stroke-width="1.1" stroke-linejoin="round"/>
<rect x="161.20" y="206.20" width="56.00" height="56.10" fill="none" stroke="#000" stroke-width="1.35"/>
<line x1="161.20" y1="262.30" x2="161.20" y2="263.90" stroke="#000" stroke-width="0.7" />
<text x="158.50" y="272.90" font-size="6.2" fill="#2a2a2a" textLength="5.5" lengthAdjust="spacingAndGlyphs" stroke="#2a2a2a">10</text>
<text x="164.30" y="269.40" font-size="3.9" fill="#2a2a2a" textLength="1.6" lengthAdjust="spacingAndGlyphs" stroke="#2a2a2a">0</text>
<line x1="171.40" y1="262.30" x2="171.40" y2="263.90" stroke="#000" stroke-width="0.7" />
<text x="168.70" y="272.90" font-size="6.2" fill="#2a2a2a" textLength="5.5" lengthAdjust="spacingAndGlyphs" stroke="#2a2a2a">10</text>
<text x="174.50" y="269.40" font-size="3.9" fill="#2a2a2a" textLength="1.6" lengthAdjust="spacingAndGlyphs" stroke="#2a2a2a">1</text>
<line x1="181.60" y1="262.30" x2="181.60" y2="263.90" stroke="#000" stroke-width="0.7" />
<text x="178.90" y="272.90" font-size="6.2" fill="#2a2a2a" textLength="5.5" lengthAdjust="spacingAndGlyphs" stroke="#2a2a2a">10</text>
<text x="184.70" y="269.40" font-size="3.9" fill="#2a2a2a" textLength="1.6" lengthAdjust="spacingAndGlyphs" stroke="#2a2a2a">2</text>
<line x1="191.80" y1="262.30" x2="191.80" y2="263.90" stroke="#000" stroke-width="0.7" />
<text x="189.10" y="272.90" font-size="6.2" fill="#2a2a2a" textLength="5.5" lengthAdjust="spacingAndGlyphs" stroke="#2a2a2a">10</text>
<text x="194.90" y="269.40" font-size="3.9" fill="#2a2a2a" textLength="1.6" lengthAdjust="spacingAndGlyphs" stroke="#2a2a2a">3</text>
<line x1="202.00" y1="262.30" x2="202.00" y2="263.90" stroke="#000" stroke-width="0.7" />
<text x="199.30" y="272.90" font-size="6.2" fill="#2a2a2a" textLength="5.5" lengthAdjust="spacingAndGlyphs" stroke="#2a2a2a">10</text>
<text x="205.10" y="269.40" font-size="3.9" fill="#2a2a2a" textLength="1.6" lengthAdjust="spacingAndGlyphs" stroke="#2a2a2a">4</text>
<line x1="212.20" y1="262.30" x2="212.20" y2="263.90" stroke="#000" stroke-width="0.7" />
<text x="209.50" y="272.90" font-size="6.2" fill="#2a2a2a" textLength="5.5" lengthAdjust="spacingAndGlyphs" stroke="#2a2a2a">10</text>
<text x="215.30" y="269.40" font-size="3.9" fill="#2a2a2a" textLength="1.6" lengthAdjust="spacingAndGlyphs" stroke="#2a2a2a">5</text>
<path d="M223.30,234.30 L223.30,234.30 L223.70,234.30 L224.10,233.85 L224.50,233.38 L224.90,233.30 L225.30,233.11 L225.70,232.21 L226.10,232.63 L226.50,232.05 L226.90,232.29 L227.30,231.87 L227.70,231.41 L228.10,232.08 L228.50,231.39 L228.90,231.60 L229.30,231.19 L229.70,231.22 L230.10,231.44 L230.50,230.64 L230.90,230.81 L231.30,231.03 L231.70,230.85 L232.10,230.21 L232.50,229.94 L232.90,229.68 L233.30,229.42 L233.70,228.84 L234.10,228.47 L234.50,227.59 L234.90,227.95 L235.30,226.76 L235.70,226.13 L236.10,226.23 L236.50,224.95 L236.90,224.60 L237.30,223.88 L237.70,223.61 L238.10,222.62 L238.50,221.69 L238.90,220.23 L239.30,219.62 L239.70,218.63 L240.10,217.36 L240.50,216.30 L240.90,215.55 L241.30,214.63 L241.70,213.10 L242.10,212.73 L242.50,211.95 L242.90,213.05 L243.30,213.51 L243.70,213.77 L244.10,215.45 L244.50,216.99 L244.90,218.16 L245.30,220.43 L245.70,222.86 L246.10,225.38 L246.50,226.99 L246.90,228.84 L247.30,231.06 L247.70,231.48 L248.10,232.66 L248.50,232.62 L248.90,233.44 L249.30,233.66 L249.70,233.91 L250.10,234.17 L250.50,234.30 L250.90,234.30 L251.30,234.30 L251.70,234.30 L252.10,234.30 L252.50,234.30 L252.90,234.30 L253.30,234.30 L253.70,234.30 L254.10,234.30 L254.50,234.30 L254.90,234.30 L255.30,234.30 L255.70,234.30 L256.10,234.30 L256.50,234.30 L256.90,234.30 L257.30,234.30 L257.70,234.30 L258.10,234.30 L258.50,234.30 L258.90,234.30 L259.30,234.30 L259.70,234.30 L260.10,234.30 L260.50,234.30 L260.90,234.30 L261.30,234.30 L261.70,234.30 L262.10,234.30 L262.50,234.30 L262.90,234.30 L263.30,234.30 L263.70,234.30 L264.10,234.30 L264.50,234.30 L264.90,234.30 L265.30,234.30 L265.70,234.30 L266.10,234.30 L266.50,234.30 L266.90,234.30 L267.30,234.30 L267.70,234.30 L268.10,234.30 L268.50,234.30 L268.90,234.30 L269.30,234.30 L269.70,234.30 L270.10,234.30 L270.50,234.30 L270.90,234.30 L271.30,234.30 L271.70,234.30 L272.10,234.30 L272.50,234.30 L272.90,234.30 L273.30,234.30 L273.70,234.30 L274.10,234.30 L274.50,234.30 L274.90,234.30 L275.30,234.30 L275.70,234.30 L276.10,234.30 L276.50,234.30 L276.90,234.30 L277.30,234.30 L277.70,234.30 L278.10,234.30 L278.50,234.30 L278.90,234.30 L279.30,234.30 L279.30,234.30 Z" fill="rgba(160,192,225,0.45)" stroke="none"/>
<path d="M223.30,234.30 L223.70,234.30 L224.10,233.85 L224.50,233.38 L224.90,233.30 L225.30,233.11 L225.70,232.21 L226.10,232.63 L226.50,232.05 L226.90,232.29 L227.30,231.87 L227.70,231.41 L228.10,232.08 L228.50,231.39 L228.90,231.60 L229.30,231.19 L229.70,231.22 L230.10,231.44 L230.50,230.64 L230.90,230.81 L231.30,231.03 L231.70,230.85 L232.10,230.21 L232.50,229.94 L232.90,229.68 L233.30,229.42 L233.70,228.84 L234.10,228.47 L234.50,227.59 L234.90,227.95 L235.30,226.76 L235.70,226.13 L236.10,226.23 L236.50,224.95 L236.90,224.60 L237.30,223.88 L237.70,223.61 L238.10,222.62 L238.50,221.69 L238.90,220.23 L239.30,219.62 L239.70,218.63 L240.10,217.36 L240.50,216.30 L240.90,215.55 L241.30,214.63 L241.70,213.10 L242.10,212.73 L242.50,211.95 L242.90,213.05 L243.30,213.51 L243.70,213.77 L244.10,215.45 L244.50,216.99 L244.90,218.16 L245.30,220.43 L245.70,222.86 L246.10,225.38 L246.50,226.99 L246.90,228.84 L247.30,231.06 L247.70,231.48 L248.10,232.66 L248.50,232.62 L248.90,233.44 L249.30,233.66 L249.70,233.91 L250.10,234.17 L250.50,234.30 L250.90,234.30 L251.30,234.30 L251.70,234.30 L252.10,234.30 L252.50,234.30 L252.90,234.30 L253.30,234.30 L253.70,234.30 L254.10,234.30 L254.50,234.30 L254.90,234.30 L255.30,234.30 L255.70,234.30 L256.10,234.30 L256.50,234.30 L256.90,234.30 L257.30,234.30 L257.70,234.30 L258.10,234.30 L258.50,234.30 L258.90,234.30 L259.30,234.30 L259.70,234.30 L260.10,234.30 L260.50,234.30 L260.90,234.30 L261.30,234.30 L261.70,234.30 L262.10,234.30 L262.50,234.30 L262.90,234.30 L263.30,234.30 L263.70,234.30 L264.10,234.30 L264.50,234.30 L264.90,234.30 L265.30,234.30 L265.70,234.30 L266.10,234.30 L266.50,234.30 L266.90,234.30 L267.30,234.30 L267.70,234.30 L268.10,234.30 L268.50,234.30 L268.90,234.30 L269.30,234.30 L269.70,234.30 L270.10,234.30 L270.50,234.30 L270.90,234.30 L271.30,234.30 L271.70,234.30 L272.10,234.30 L272.50,234.30 L272.90,234.30 L273.30,234.30 L273.70,234.30 L274.10,234.30 L274.50,234.30 L274.90,234.30 L275.30,234.30 L275.70,234.30 L276.10,234.30 L276.50,234.30 L276.90,234.30 L277.30,234.30 L277.70,234.30 L278.10,234.30 L278.50,234.30 L278.90,234.30 L279.30,234.30" fill="none" stroke="#213f66" stroke-width="1.1" stroke-linejoin="round"/>
<path d="M223.30,248.00 L223.30,248.00 L223.70,248.00 L224.10,248.00 L224.50,247.84 L224.90,247.51 L225.30,246.95 L225.70,246.88 L226.10,247.08 L226.50,247.18 L226.90,246.27 L227.30,246.87 L227.70,246.44 L228.10,246.44 L228.50,246.36 L228.90,245.84 L229.30,245.51 L229.70,246.03 L230.10,245.56 L230.50,245.62 L230.90,245.13 L231.30,245.01 L231.70,244.96 L232.10,244.70 L232.50,244.40 L232.90,243.51 L233.30,243.62 L233.70,243.61 L234.10,242.73 L234.50,242.30 L234.90,242.18 L235.30,241.84 L235.70,241.18 L236.10,240.66 L236.50,239.82 L236.90,239.43 L237.30,238.60 L237.70,237.63 L238.10,236.39 L238.50,235.16 L238.90,234.33 L239.30,233.68 L239.70,232.78 L240.10,231.79 L240.50,231.02 L240.90,230.16 L241.30,229.51 L241.70,228.42 L242.10,227.12 L242.50,227.27 L242.90,226.32 L243.30,225.60 L243.70,224.78 L244.10,225.30 L244.50,225.73 L244.90,226.24 L245.30,226.59 L245.70,228.45 L246.10,229.89 L246.50,231.89 L246.90,235.26 L247.30,239.43 L247.70,242.04 L248.10,243.25 L248.50,244.92 L248.90,247.12 L249.30,247.36 L249.70,247.61 L250.10,247.87 L250.50,248.00 L250.90,248.00 L251.30,248.00 L251.70,248.00 L252.10,248.00 L252.50,248.00 L252.90,248.00 L253.30,248.00 L253.70,248.00 L254.10,248.00 L254.50,248.00 L254.90,248.00 L255.30,248.00 L255.70,248.00 L256.10,248.00 L256.50,248.00 L256.90,248.00 L257.30,248.00 L257.70,248.00 L258.10,248.00 L258.50,248.00 L258.90,248.00 L259.30,248.00 L259.70,248.00 L260.10,248.00 L260.50,248.00 L260.90,248.00 L261.30,248.00 L261.70,248.00 L262.10,248.00 L262.50,248.00 L262.90,248.00 L263.30,248.00 L263.70,248.00 L264.10,248.00 L264.50,248.00 L264.90,248.00 L265.30,248.00 L265.70,248.00 L266.10,248.00 L266.50,248.00 L266.90,248.00 L267.30,248.00 L267.70,248.00 L268.10,248.00 L268.50,248.00 L268.90,248.00 L269.30,248.00 L269.70,248.00 L270.10,248.00 L270.50,248.00 L270.90,248.00 L271.30,248.00 L271.70,248.00 L272.10,248.00 L272.50,248.00 L272.90,248.00 L273.30,248.00 L273.70,248.00 L274.10,248.00 L274.50,248.00 L274.90,248.00 L275.30,248.00 L275.70,248.00 L276.10,248.00 L276.50,248.00 L276.90,248.00 L277.30,248.00 L277.70,248.00 L278.10,248.00 L278.50,248.00 L278.90,248.00 L279.30,248.00 L279.30,248.00 Z" fill="rgba(150,212,150,0.38)" stroke="none"/>
<path d="M223.30,248.00 L223.70,248.00 L224.10,248.00 L224.50,247.84 L224.90,247.51 L225.30,246.95 L225.70,246.88 L226.10,247.08 L226.50,247.18 L226.90,246.27 L227.30,246.87 L227.70,246.44 L228.10,246.44 L228.50,246.36 L228.90,245.84 L229.30,245.51 L229.70,246.03 L230.10,245.56 L230.50,245.62 L230.90,245.13 L231.30,245.01 L231.70,244.96 L232.10,244.70 L232.50,244.40 L232.90,243.51 L233.30,243.62 L233.70,243.61 L234.10,242.73 L234.50,242.30 L234.90,242.18 L235.30,241.84 L235.70,241.18 L236.10,240.66 L236.50,239.82 L236.90,239.43 L237.30,238.60 L237.70,237.63 L238.10,236.39 L238.50,235.16 L238.90,234.33 L239.30,233.68 L239.70,232.78 L240.10,231.79 L240.50,231.02 L240.90,230.16 L241.30,229.51 L241.70,228.42 L242.10,227.12 L242.50,227.27 L242.90,226.32 L243.30,225.60 L243.70,224.78 L244.10,225.30 L244.50,225.73 L244.90,226.24 L245.30,226.59 L245.70,228.45 L246.10,229.89 L246.50,231.89 L246.90,235.26 L247.30,239.43 L247.70,242.04 L248.10,243.25 L248.50,244.92 L248.90,247.12 L249.30,247.36 L249.70,247.61 L250.10,247.87 L250.50,248.00 L250.90,248.00 L251.30,248.00 L251.70,248.00 L252.10,248.00 L252.50,248.00 L252.90,248.00 L253.30,248.00 L253.70,248.00 L254.10,248.00 L254.50,248.00 L254.90,248.00 L255.30,248.00 L255.70,248.00 L256.10,248.00 L256.50,248.00 L256.90,248.00 L257.30,248.00 L257.70,248.00 L258.10,248.00 L258.50,248.00 L258.90,248.00 L259.30,248.00 L259.70,248.00 L260.10,248.00 L260.50,248.00 L260.90,248.00 L261.30,248.00 L261.70,248.00 L262.10,248.00 L262.50,248.00 L262.90,248.00 L263.30,248.00 L263.70,248.00 L264.10,248.00 L264.50,248.00 L264.90,248.00 L265.30,248.00 L265.70,248.00 L266.10,248.00 L266.50,248.00 L266.90,248.00 L267.30,248.00 L267.70,248.00 L268.10,248.00 L268.50,248.00 L268.90,248.00 L269.30,248.00 L269.70,248.00 L270.10,248.00 L270.50,248.00 L270.90,248.00 L271.30,248.00 L271.70,248.00 L272.10,248.00 L272.50,248.00 L272.90,248.00 L273.30,248.00 L273.70,248.00 L274.10,248.00 L274.50,248.00 L274.90,248.00 L275.30,248.00 L275.70,248.00 L276.10,248.00 L276.50,248.00 L276.90,248.00 L277.30,248.00 L277.70,248.00 L278.10,248.00 L278.50,248.00 L278.90,248.00 L279.30,248.00" fill="none" stroke="#3c9e4c" stroke-width="1.1" stroke-linejoin="round"/>
<path d="M223.30,261.80 L223.30,261.80 L223.70,261.80 L224.10,261.80 L224.50,261.64 L224.90,261.32 L225.30,261.00 L225.70,260.60 L226.10,261.05 L226.50,260.70 L226.90,260.22 L227.30,260.31 L227.70,260.28 L228.10,260.17 L228.50,260.83 L228.90,260.95 L229.30,260.91 L229.70,260.58 L230.10,260.44 L230.50,260.20 L230.90,260.40 L231.30,260.47 L231.70,260.35 L232.10,260.61 L232.50,260.50 L232.90,260.94 L233.30,260.25 L233.70,260.72 L234.10,260.09 L234.50,260.31 L234.90,260.60 L235.30,260.73 L235.70,260.60 L236.10,260.24 L236.50,260.16 L236.90,260.66 L237.30,260.67 L237.70,260.21 L238.10,260.10 L238.50,260.22 L238.90,260.31 L239.30,259.91 L239.70,260.39 L240.10,260.07 L240.50,259.87 L240.90,259.37 L241.30,259.59 L241.70,259.32 L242.10,259.63 L242.50,259.79 L242.90,259.73 L243.30,258.99 L243.70,259.13 L244.10,259.39 L244.50,259.55 L244.90,259.03 L245.30,258.77 L245.70,258.91 L246.10,258.96 L246.50,258.49 L246.90,258.16 L247.30,258.50 L247.70,258.17 L248.10,257.40 L248.50,256.83 L248.90,256.10 L249.30,256.04 L249.70,255.01 L250.10,254.28 L250.50,252.90 L250.90,251.57 L251.30,249.28 L251.70,247.31 L252.10,243.97 L252.50,241.80 L252.90,239.63 L253.30,236.97 L253.70,237.70 L254.10,237.42 L254.50,239.68 L254.90,242.32 L255.30,244.66 L255.70,247.04 L256.10,249.43 L256.50,251.79 L256.90,254.45 L257.30,255.50 L257.70,256.93 L258.10,257.51 L258.50,259.52 L258.90,259.80 L259.30,259.98 L259.70,259.88 L260.10,259.61 L260.50,259.82 L260.90,260.15 L261.30,260.10 L261.70,260.35 L262.10,261.09 L262.50,261.12 L262.90,261.31 L263.30,261.50 L263.70,261.51 L264.10,261.52 L264.50,261.52 L264.90,261.53 L265.30,261.54 L265.70,261.55 L266.10,261.55 L266.50,261.56 L266.90,261.57 L267.30,261.58 L267.70,261.58 L268.10,261.59 L268.50,261.60 L268.90,261.61 L269.30,261.62 L269.70,261.62 L270.10,261.63 L270.50,261.64 L270.90,261.65 L271.30,261.65 L271.70,261.66 L272.10,261.67 L272.50,261.68 L272.90,261.68 L273.30,261.69 L273.70,261.70 L274.10,261.71 L274.50,261.72 L274.90,261.72 L275.30,261.73 L275.70,261.74 L276.10,261.75 L276.50,261.75 L276.90,261.76 L277.30,261.77 L277.70,261.78 L278.10,261.78 L278.50,261.79 L278.90,261.80 L279.30,261.80 L279.30,261.80 Z" fill="rgba(238,128,150,0.50)" stroke="none"/>
<path d="M223.30,261.80 L223.70,261.80 L224.10,261.80 L224.50,261.64 L224.90,261.32 L225.30,261.00 L225.70,260.60 L226.10,261.05 L226.50,260.70 L226.90,260.22 L227.30,260.31 L227.70,260.28 L228.10,260.17 L228.50,260.83 L228.90,260.95 L229.30,260.91 L229.70,260.58 L230.10,260.44 L230.50,260.20 L230.90,260.40 L231.30,260.47 L231.70,260.35 L232.10,260.61 L232.50,260.50 L232.90,260.94 L233.30,260.25 L233.70,260.72 L234.10,260.09 L234.50,260.31 L234.90,260.60 L235.30,260.73 L235.70,260.60 L236.10,260.24 L236.50,260.16 L236.90,260.66 L237.30,260.67 L237.70,260.21 L238.10,260.10 L238.50,260.22 L238.90,260.31 L239.30,259.91 L239.70,260.39 L240.10,260.07 L240.50,259.87 L240.90,259.37 L241.30,259.59 L241.70,259.32 L242.10,259.63 L242.50,259.79 L242.90,259.73 L243.30,258.99 L243.70,259.13 L244.10,259.39 L244.50,259.55 L244.90,259.03 L245.30,258.77 L245.70,258.91 L246.10,258.96 L246.50,258.49 L246.90,258.16 L247.30,258.50 L247.70,258.17 L248.10,257.40 L248.50,256.83 L248.90,256.10 L249.30,256.04 L249.70,255.01 L250.10,254.28 L250.50,252.90 L250.90,251.57 L251.30,249.28 L251.70,247.31 L252.10,243.97 L252.50,241.80 L252.90,239.63 L253.30,236.97 L253.70,237.70 L254.10,237.42 L254.50,239.68 L254.90,242.32 L255.30,244.66 L255.70,247.04 L256.10,249.43 L256.50,251.79 L256.90,254.45 L257.30,255.50 L257.70,256.93 L258.10,257.51 L258.50,259.52 L258.90,259.80 L259.30,259.98 L259.70,259.88 L260.10,259.61 L260.50,259.82 L260.90,260.15 L261.30,260.10 L261.70,260.35 L262.10,261.09 L262.50,261.12 L262.90,261.31 L263.30,261.50 L263.70,261.51 L264.10,261.52 L264.50,261.52 L264.90,261.53 L265.30,261.54 L265.70,261.55 L266.10,261.55 L266.50,261.56 L266.90,261.57 L267.30,261.58 L267.70,261.58 L268.10,261.59 L268.50,261.60 L268.90,261.61 L269.30,261.62 L269.70,261.62 L270.10,261.63 L270.50,261.64 L270.90,261.65 L271.30,261.65 L271.70,261.66 L272.10,261.67 L272.50,261.68 L272.90,261.68 L273.30,261.69 L273.70,261.70 L274.10,261.71 L274.50,261.72 L274.90,261.72 L275.30,261.73 L275.70,261.74 L276.10,261.75 L276.50,261.75 L276.90,261.76 L277.30,261.77 L277.70,261.78 L278.10,261.78 L278.50,261.79 L278.90,261.80 L279.30,261.80" fill="none" stroke="#c41d42" stroke-width="1.1" stroke-linejoin="round"/>
<rect x="223.30" y="206.20" width="56.00" height="56.10" fill="none" stroke="#000" stroke-width="1.35"/>
<line x1="223.30" y1="262.30" x2="223.30" y2="263.90" stroke="#000" stroke-width="0.7" />
<text x="220.60" y="272.90" font-size="6.2" fill="#2a2a2a" textLength="5.5" lengthAdjust="spacingAndGlyphs" stroke="#2a2a2a">10</text>
<text x="226.40" y="269.40" font-size="3.9" fill="#2a2a2a" textLength="1.6" lengthAdjust="spacingAndGlyphs" stroke="#2a2a2a">0</text>
<line x1="233.50" y1="262.30" x2="233.50" y2="263.90" stroke="#000" stroke-width="0.7" />
<text x="230.80" y="272.90" font-size="6.2" fill="#2a2a2a" textLength="5.5" lengthAdjust="spacingAndGlyphs" stroke="#2a2a2a">10</text>
<text x="236.60" y="269.40" font-size="3.9" fill="#2a2a2a" textLength="1.6" lengthAdjust="spacingAndGlyphs" stroke="#2a2a2a">1</text>
<line x1="243.70" y1="262.30" x2="243.70" y2="263.90" stroke="#000" stroke-width="0.7" />
<text x="241.00" y="272.90" font-size="6.2" fill="#2a2a2a" textLength="5.5" lengthAdjust="spacingAndGlyphs" stroke="#2a2a2a">10</text>
<text x="246.80" y="269.40" font-size="3.9" fill="#2a2a2a" textLength="1.6" lengthAdjust="spacingAndGlyphs" stroke="#2a2a2a">2</text>
<line x1="253.90" y1="262.30" x2="253.90" y2="263.90" stroke="#000" stroke-width="0.7" />
<text x="251.20" y="272.90" font-size="6.2" fill="#2a2a2a" textLength="5.5" lengthAdjust="spacingAndGlyphs" stroke="#2a2a2a">10</text>
<text x="257.00" y="269.40" font-size="3.9" fill="#2a2a2a" textLength="1.6" lengthAdjust="spacingAndGlyphs" stroke="#2a2a2a">3</text>
<line x1="264.10" y1="262.30" x2="264.10" y2="263.90" stroke="#000" stroke-width="0.7" />
<text x="261.40" y="272.90" font-size="6.2" fill="#2a2a2a" textLength="5.5" lengthAdjust="spacingAndGlyphs" stroke="#2a2a2a">10</text>
<text x="267.20" y="269.40" font-size="3.9" fill="#2a2a2a" textLength="1.6" lengthAdjust="spacingAndGlyphs" stroke="#2a2a2a">4</text>
<line x1="274.30" y1="262.30" x2="274.30" y2="263.90" stroke="#000" stroke-width="0.7" />
<text x="271.60" y="272.90" font-size="6.2" fill="#2a2a2a" textLength="5.5" lengthAdjust="spacingAndGlyphs" stroke="#2a2a2a">10</text>
<text x="277.40" y="269.40" font-size="3.9" fill="#2a2a2a" textLength="1.6" lengthAdjust="spacingAndGlyphs" stroke="#2a2a2a">5</text>
</svg>
</body></html>
